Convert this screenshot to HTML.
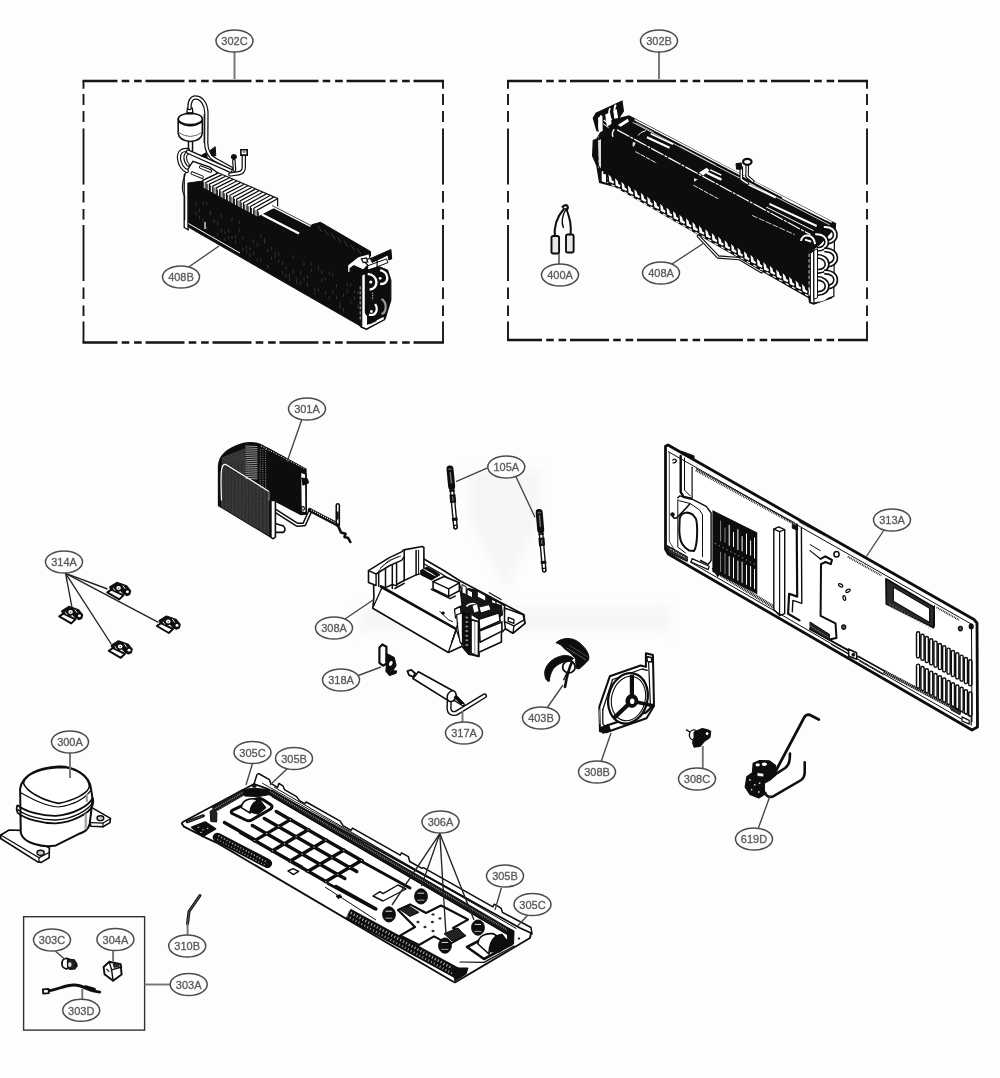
<!DOCTYPE html>
<html><head><meta charset="utf-8"><title>Exploded view</title><style>html,body{margin:0;padding:0;background:#fdfdfd;}
body{width:1000px;height:1078px;overflow:hidden;font-family:"Liberation Sans",sans-serif;}
svg{display:block;}
.lb{font-family:"Liberation Sans",sans-serif;font-size:11px;fill:#5a5a5a;stroke:#5a5a5a;stroke-width:0.3px;text-anchor:middle;}
</style></head><body><svg width="1000" height="1078" viewBox="0 0 1000 1078"><defs><filter id="soft" x="-5%" y="-5%" width="110%" height="110%"><feGaussianBlur stdDeviation="0.55"/></filter><filter id="wm" x="-20%" y="-20%" width="140%" height="140%"><feGaussianBlur stdDeviation="5"/></filter></defs><rect x="0" y="0" width="1000" height="1078" fill="#fdfdfd"/><g filter="url(#soft)"><g filter="url(#wm)" opacity="0.55"><path d="M470,470 L540,470 L540,520 L505,590 L470,520 Z" fill="#f0f0f0" stroke="none" stroke-width="0" /><rect x="360" y="606" width="310" height="26" fill="#f1f1f1"/></g><polygon points="184.2,175 192.9,161.4 209.8,167.2 218.2,173.2 202.6,181.7 202.6,188.3 188.1,183.5 188.1,229.9 184.2,227.5" fill="#fff" stroke="#0c0c0c" stroke-width="1.3" /><path d="M192.3,173.2 L202,177.1" fill="none" stroke="#0c0c0c" stroke-width="3.6" stroke-linecap="round" stroke-linejoin="round"/><path d="M192.3,173.2 L202,177.1" fill="none" stroke="#fff" stroke-width="1.6" stroke-linecap="round" stroke-linejoin="round"/><path d="M200.8,167.2 L210.4,171" fill="none" stroke="#0c0c0c" stroke-width="3.6" stroke-linecap="round" stroke-linejoin="round"/><path d="M200.8,167.2 L210.4,171" fill="none" stroke="#fff" stroke-width="1.6" stroke-linecap="round" stroke-linejoin="round"/><polygon points="188.2,183 188.2,227 360,325.8 360.5,262 370.5,256 370.5,251.5 320.5,222.3 310,225.2 306,223 277.5,207 277.5,199 257,210 203,181" fill="#0c0c0c" stroke="#0c0c0c" stroke-width="1" /><line x1="196" y1="202.619" x2="196" y2="206.119" stroke="#3a3a3a" stroke-width="0.9" /><line x1="196" y1="211.807" x2="196" y2="215.307" stroke="#3a3a3a" stroke-width="0.9" /><line x1="199.6" y1="208.595" x2="199.6" y2="212.095" stroke="#3a3a3a" stroke-width="0.9" /><line x1="199.6" y1="215.614" x2="199.6" y2="219.114" stroke="#3a3a3a" stroke-width="0.9" /><line x1="203.2" y1="218.284" x2="203.2" y2="221.784" stroke="#3a3a3a" stroke-width="0.9" /><line x1="203.2" y1="201.478" x2="203.2" y2="204.978" stroke="#3a3a3a" stroke-width="0.9" /><line x1="206.8" y1="201.923" x2="206.8" y2="205.423" stroke="#3a3a3a" stroke-width="0.9" /><line x1="206.8" y1="226.652" x2="206.8" y2="230.152" stroke="#3a3a3a" stroke-width="0.9" /><line x1="210.4" y1="211.325" x2="210.4" y2="214.825" stroke="#3a3a3a" stroke-width="0.9" /><line x1="210.4" y1="210.574" x2="210.4" y2="214.074" stroke="#3a3a3a" stroke-width="0.9" /><line x1="214" y1="235.429" x2="214" y2="238.929" stroke="#3a3a3a" stroke-width="0.9" /><line x1="214" y1="219.668" x2="214" y2="223.168" stroke="#3a3a3a" stroke-width="0.9" /><line x1="217.6" y1="232.67" x2="217.6" y2="236.17" stroke="#3a3a3a" stroke-width="0.9" /><line x1="217.6" y1="221.867" x2="217.6" y2="225.367" stroke="#3a3a3a" stroke-width="0.9" /><line x1="221.2" y1="228.764" x2="221.2" y2="232.264" stroke="#3a3a3a" stroke-width="0.9" /><line x1="221.2" y1="214.11" x2="221.2" y2="217.61" stroke="#3a3a3a" stroke-width="0.9" /><line x1="224.8" y1="230.654" x2="224.8" y2="234.154" stroke="#3a3a3a" stroke-width="0.9" /><line x1="224.8" y1="237.649" x2="224.8" y2="241.149" stroke="#3a3a3a" stroke-width="0.9" /><line x1="228.4" y1="229.319" x2="228.4" y2="232.819" stroke="#3a3a3a" stroke-width="0.9" /><line x1="228.4" y1="235.862" x2="228.4" y2="239.362" stroke="#3a3a3a" stroke-width="0.9" /><line x1="232" y1="235.782" x2="232" y2="239.282" stroke="#3a3a3a" stroke-width="0.9" /><line x1="232" y1="217.561" x2="232" y2="221.061" stroke="#3a3a3a" stroke-width="0.9" /><line x1="235.6" y1="240.403" x2="235.6" y2="243.903" stroke="#3a3a3a" stroke-width="0.9" /><line x1="235.6" y1="235.389" x2="235.6" y2="238.889" stroke="#3a3a3a" stroke-width="0.9" /><line x1="239.2" y1="228.71" x2="239.2" y2="232.21" stroke="#3a3a3a" stroke-width="0.9" /><line x1="239.2" y1="220.602" x2="239.2" y2="224.102" stroke="#3a3a3a" stroke-width="0.9" /><line x1="242.8" y1="247.654" x2="242.8" y2="251.154" stroke="#3a3a3a" stroke-width="0.9" /><line x1="242.8" y1="235.87" x2="242.8" y2="239.37" stroke="#3a3a3a" stroke-width="0.9" /><line x1="246.4" y1="245.269" x2="246.4" y2="248.769" stroke="#3a3a3a" stroke-width="0.9" /><line x1="246.4" y1="250.068" x2="246.4" y2="253.568" stroke="#3a3a3a" stroke-width="0.9" /><line x1="250" y1="247.144" x2="250" y2="250.644" stroke="#3a3a3a" stroke-width="0.9" /><line x1="250" y1="253.353" x2="250" y2="256.853" stroke="#3a3a3a" stroke-width="0.9" /><line x1="253.6" y1="239.585" x2="253.6" y2="243.085" stroke="#3a3a3a" stroke-width="0.9" /><line x1="253.6" y1="251.763" x2="253.6" y2="255.263" stroke="#3a3a3a" stroke-width="0.9" /><line x1="257.2" y1="243.091" x2="257.2" y2="246.591" stroke="#3a3a3a" stroke-width="0.9" /><line x1="257.2" y1="257.82" x2="257.2" y2="261.32" stroke="#3a3a3a" stroke-width="0.9" /><line x1="260.8" y1="258.134" x2="260.8" y2="261.634" stroke="#3a3a3a" stroke-width="0.9" /><line x1="260.8" y1="234.692" x2="260.8" y2="238.192" stroke="#3a3a3a" stroke-width="0.9" /><line x1="264.4" y1="237.863" x2="264.4" y2="241.363" stroke="#3a3a3a" stroke-width="0.9" /><line x1="264.4" y1="240.294" x2="264.4" y2="243.794" stroke="#3a3a3a" stroke-width="0.9" /><line x1="268" y1="264.764" x2="268" y2="268.264" stroke="#3a3a3a" stroke-width="0.9" /><line x1="268" y1="248.885" x2="268" y2="252.385" stroke="#3a3a3a" stroke-width="0.9" /><line x1="271.6" y1="256.615" x2="271.6" y2="260.115" stroke="#3a3a3a" stroke-width="0.9" /><line x1="271.6" y1="246.847" x2="271.6" y2="250.347" stroke="#3a3a3a" stroke-width="0.9" /><line x1="275.2" y1="255.049" x2="275.2" y2="258.549" stroke="#3a3a3a" stroke-width="0.9" /><line x1="275.2" y1="251.408" x2="275.2" y2="254.908" stroke="#3a3a3a" stroke-width="0.9" /><line x1="278.8" y1="252.375" x2="278.8" y2="255.875" stroke="#3a3a3a" stroke-width="0.9" /><line x1="278.8" y1="259.4" x2="278.8" y2="262.9" stroke="#3a3a3a" stroke-width="0.9" /><line x1="282.4" y1="261.392" x2="282.4" y2="264.892" stroke="#3a3a3a" stroke-width="0.9" /><line x1="282.4" y1="270.99" x2="282.4" y2="274.49" stroke="#3a3a3a" stroke-width="0.9" /><line x1="286" y1="266.339" x2="286" y2="269.839" stroke="#3a3a3a" stroke-width="0.9" /><line x1="286" y1="273.748" x2="286" y2="277.248" stroke="#3a3a3a" stroke-width="0.9" /><line x1="289.6" y1="273.588" x2="289.6" y2="277.088" stroke="#3a3a3a" stroke-width="0.9" /><line x1="289.6" y1="277.626" x2="289.6" y2="281.126" stroke="#3a3a3a" stroke-width="0.9" /><line x1="293.2" y1="270.05" x2="293.2" y2="273.55" stroke="#3a3a3a" stroke-width="0.9" /><line x1="293.2" y1="254.805" x2="293.2" y2="258.305" stroke="#3a3a3a" stroke-width="0.9" /><line x1="296.8" y1="277.747" x2="296.8" y2="281.247" stroke="#3a3a3a" stroke-width="0.9" /><line x1="296.8" y1="280.867" x2="296.8" y2="284.367" stroke="#3a3a3a" stroke-width="0.9" /><line x1="300.4" y1="281.085" x2="300.4" y2="284.585" stroke="#3a3a3a" stroke-width="0.9" /><line x1="300.4" y1="271.017" x2="300.4" y2="274.517" stroke="#3a3a3a" stroke-width="0.9" /><line x1="304" y1="277.375" x2="304" y2="280.875" stroke="#3a3a3a" stroke-width="0.9" /><line x1="304" y1="262.294" x2="304" y2="265.794" stroke="#3a3a3a" stroke-width="0.9" /><line x1="307.6" y1="282.924" x2="307.6" y2="286.424" stroke="#3a3a3a" stroke-width="0.9" /><line x1="307.6" y1="275.182" x2="307.6" y2="278.682" stroke="#3a3a3a" stroke-width="0.9" /><line x1="311.2" y1="268.541" x2="311.2" y2="272.041" stroke="#3a3a3a" stroke-width="0.9" /><line x1="311.2" y1="261.896" x2="311.2" y2="265.396" stroke="#3a3a3a" stroke-width="0.9" /><line x1="314.8" y1="287.626" x2="314.8" y2="291.126" stroke="#3a3a3a" stroke-width="0.9" /><line x1="314.8" y1="291.702" x2="314.8" y2="295.202" stroke="#3a3a3a" stroke-width="0.9" /><line x1="318.4" y1="266.68" x2="318.4" y2="270.18" stroke="#3a3a3a" stroke-width="0.9" /><line x1="318.4" y1="288.042" x2="318.4" y2="291.542" stroke="#3a3a3a" stroke-width="0.9" /><line x1="322" y1="278.354" x2="322" y2="281.854" stroke="#3a3a3a" stroke-width="0.9" /><line x1="322" y1="270.563" x2="322" y2="274.063" stroke="#3a3a3a" stroke-width="0.9" /><line x1="325.6" y1="276.873" x2="325.6" y2="280.373" stroke="#3a3a3a" stroke-width="0.9" /><line x1="325.6" y1="291.12" x2="325.6" y2="294.62" stroke="#3a3a3a" stroke-width="0.9" /><line x1="329.2" y1="296.255" x2="329.2" y2="299.755" stroke="#3a3a3a" stroke-width="0.9" /><line x1="329.2" y1="271.398" x2="329.2" y2="274.898" stroke="#3a3a3a" stroke-width="0.9" /><line x1="332.8" y1="290.524" x2="332.8" y2="294.024" stroke="#3a3a3a" stroke-width="0.9" /><line x1="332.8" y1="273.436" x2="332.8" y2="276.936" stroke="#3a3a3a" stroke-width="0.9" /><line x1="336.4" y1="295.657" x2="336.4" y2="299.157" stroke="#3a3a3a" stroke-width="0.9" /><line x1="336.4" y1="284.033" x2="336.4" y2="287.533" stroke="#3a3a3a" stroke-width="0.9" /><line x1="340" y1="302.547" x2="340" y2="306.047" stroke="#3a3a3a" stroke-width="0.9" /><line x1="340" y1="305.539" x2="340" y2="309.039" stroke="#3a3a3a" stroke-width="0.9" /><line x1="343.6" y1="293.299" x2="343.6" y2="296.799" stroke="#3a3a3a" stroke-width="0.9" /><line x1="343.6" y1="308.091" x2="343.6" y2="311.591" stroke="#3a3a3a" stroke-width="0.9" /><line x1="347.2" y1="289.442" x2="347.2" y2="292.942" stroke="#3a3a3a" stroke-width="0.9" /><line x1="347.2" y1="282.461" x2="347.2" y2="285.961" stroke="#3a3a3a" stroke-width="0.9" /><line x1="350.8" y1="300.161" x2="350.8" y2="303.661" stroke="#3a3a3a" stroke-width="0.9" /><line x1="350.8" y1="283.109" x2="350.8" y2="286.609" stroke="#3a3a3a" stroke-width="0.9" /><line x1="354.4" y1="290.106" x2="354.4" y2="293.606" stroke="#3a3a3a" stroke-width="0.9" /><line x1="354.4" y1="296.422" x2="354.4" y2="299.922" stroke="#3a3a3a" stroke-width="0.9" /><line x1="358" y1="304.514" x2="358" y2="308.014" stroke="#3a3a3a" stroke-width="0.9" /><line x1="358" y1="290.886" x2="358" y2="294.386" stroke="#3a3a3a" stroke-width="0.9" /><line x1="188.5" y1="223.5" x2="240" y2="253" stroke="#fff" stroke-width="1" /><line x1="205" y1="222" x2="205" y2="229" stroke="#fff" stroke-width="1.2" /><polygon points="202.6,188.2 202.6,180.5 218.3,172.8 277.6,198.4 277.6,207.2 257.5,217.6" fill="#fff" stroke="#0c0c0c" stroke-width="1.2" /><polyline points="202.6,187.9 202.6,180.5 218.3,173" fill="none" stroke="#0c0c0c" stroke-width="1.25" /><line x1="203.8" y1="188.1" x2="203.8" y2="182" stroke="#0c0c0c" stroke-width="0.9" /><polyline points="206,189.8 206,182.4 222,174.6" fill="none" stroke="#0c0c0c" stroke-width="1.25" /><line x1="207.212" y1="189.956" x2="207.212" y2="183.856" stroke="#0c0c0c" stroke-width="0.9" /><polyline points="209.4,191.6 209.4,184.2 225.7,176.2" fill="none" stroke="#0c0c0c" stroke-width="1.25" /><line x1="210.625" y1="191.812" x2="210.625" y2="185.713" stroke="#0c0c0c" stroke-width="0.9" /><polyline points="212.8,193.5 212.8,186.1 229.4,177.8" fill="none" stroke="#0c0c0c" stroke-width="1.25" /><line x1="214.037" y1="193.669" x2="214.037" y2="187.569" stroke="#0c0c0c" stroke-width="0.9" /><polyline points="216.2,195.3 216.2,187.9 233.1,179.4" fill="none" stroke="#0c0c0c" stroke-width="1.25" /><line x1="217.45" y1="195.525" x2="217.45" y2="189.425" stroke="#0c0c0c" stroke-width="0.9" /><polyline points="219.7,197.2 219.7,189.8 236.8,181" fill="none" stroke="#0c0c0c" stroke-width="1.25" /><line x1="220.862" y1="197.381" x2="220.862" y2="191.281" stroke="#0c0c0c" stroke-width="0.9" /><polyline points="223.1,199 223.1,191.6 240.5,182.6" fill="none" stroke="#0c0c0c" stroke-width="1.25" /><line x1="224.275" y1="199.237" x2="224.275" y2="193.137" stroke="#0c0c0c" stroke-width="0.9" /><polyline points="226.5,200.9 226.5,193.5 244.2,184.2" fill="none" stroke="#0c0c0c" stroke-width="1.25" /><line x1="227.687" y1="201.094" x2="227.687" y2="194.994" stroke="#0c0c0c" stroke-width="0.9" /><polyline points="229.9,202.8 229.9,195.3 247.9,185.8" fill="none" stroke="#0c0c0c" stroke-width="1.25" /><line x1="231.1" y1="202.95" x2="231.1" y2="196.85" stroke="#0c0c0c" stroke-width="0.9" /><polyline points="233.3,204.6 233.3,197.2 251.6,187.5" fill="none" stroke="#0c0c0c" stroke-width="1.25" /><line x1="234.512" y1="204.806" x2="234.512" y2="198.706" stroke="#0c0c0c" stroke-width="0.9" /><polyline points="236.7,206.5 236.7,199.1 255.3,189.1" fill="none" stroke="#0c0c0c" stroke-width="1.25" /><line x1="237.925" y1="206.662" x2="237.925" y2="200.562" stroke="#0c0c0c" stroke-width="0.9" /><polyline points="240.1,208.3 240.1,200.9 259,190.7" fill="none" stroke="#0c0c0c" stroke-width="1.25" /><line x1="241.337" y1="208.519" x2="241.337" y2="202.419" stroke="#0c0c0c" stroke-width="0.9" /><polyline points="243.5,210.2 243.5,202.8 262.7,192.3" fill="none" stroke="#0c0c0c" stroke-width="1.25" /><line x1="244.75" y1="210.375" x2="244.75" y2="204.275" stroke="#0c0c0c" stroke-width="0.9" /><polyline points="247,212 247,204.6 266.4,193.9" fill="none" stroke="#0c0c0c" stroke-width="1.25" /><line x1="248.162" y1="212.231" x2="248.162" y2="206.131" stroke="#0c0c0c" stroke-width="0.9" /><polyline points="250.4,213.9 250.4,206.5 270.1,195.5" fill="none" stroke="#0c0c0c" stroke-width="1.25" /><line x1="251.575" y1="214.087" x2="251.575" y2="207.987" stroke="#0c0c0c" stroke-width="0.9" /><polyline points="253.8,215.7 253.8,208.3 273.8,197.1" fill="none" stroke="#0c0c0c" stroke-width="1.25" /><line x1="254.987" y1="215.944" x2="254.987" y2="209.844" stroke="#0c0c0c" stroke-width="0.9" /><polyline points="257.2,217.6 257.2,210.2 277.5,198.7" fill="none" stroke="#0c0c0c" stroke-width="1.25" /><line x1="258.4" y1="217.8" x2="258.4" y2="211.7" stroke="#0c0c0c" stroke-width="0.9" /><polyline points="202.6,188.2 257.5,217.6 277.6,207.2" fill="none" stroke="#0c0c0c" stroke-width="1.6" /><line x1="272" y1="205.5" x2="311" y2="225.5" stroke="#fff" stroke-width="3.6" /><line x1="272" y1="205.5" x2="311" y2="225.5" stroke="#0c0c0c" stroke-width="0.8" /><line x1="262" y1="214.5" x2="299" y2="233.5" stroke="#fff" stroke-width="2.4" /><line x1="318" y1="226" x2="322" y2="232" stroke="#444" stroke-width="0.8" /><line x1="324.5" y1="229.7" x2="328.5" y2="235.7" stroke="#444" stroke-width="0.8" /><line x1="331" y1="233.4" x2="335" y2="239.4" stroke="#444" stroke-width="0.8" /><line x1="337.5" y1="237.1" x2="341.5" y2="243.1" stroke="#444" stroke-width="0.8" /><line x1="344" y1="240.8" x2="348" y2="246.8" stroke="#444" stroke-width="0.8" /><line x1="350.5" y1="244.5" x2="354.5" y2="250.5" stroke="#444" stroke-width="0.8" /><line x1="357" y1="248.2" x2="361" y2="254.2" stroke="#444" stroke-width="0.8" /><path d="M190.5,138.2 L190.5,150.3" fill="none" stroke="#0c0c0c" stroke-width="5.5" stroke-linecap="round" stroke-linejoin="round"/><path d="M190.5,138.2 L190.5,150.3" fill="none" stroke="#fff" stroke-width="2.6" stroke-linecap="round" stroke-linejoin="round"/><path d="M178.2,118.9 L178.2,133.4 Q179,140.4 190.5,141.6 Q201.6,140.4 202.3,133.4 L202.3,118.9 Z" fill="#fff" stroke="#0c0c0c" stroke-width="1.5" /><ellipse cx="190.3" cy="118.9" rx="12" ry="5.6" fill="#fff" stroke="#0c0c0c" stroke-width="1.5" /><path d="M178.2,121.6 Q190.3,129.8 202.3,121.6" fill="none" stroke="#0c0c0c" stroke-width="1.6" /><path d="M178.2,132.2 Q190.3,140.7 202.3,132.2" fill="none" stroke="#555" stroke-width="0.9" /><polygon points="186.9,112.9 187.5,108.1 192.3,108.1 192.9,112.9" fill="#fff" stroke="#0c0c0c" stroke-width="1.3" /><line x1="186.9" y1="113.5" x2="192.9" y2="113.5" stroke="#0c0c0c" stroke-width="2" /><path d="M189.5,108.1 C189.3,100.9 191.7,97.2 195.9,97.5 C202,97.8 206.2,104.5 206.4,112.9 L206.2,143.1 C206.2,150.3 209.8,156.9 214.6,159.3 L230.9,168.4" fill="none" stroke="#0c0c0c" stroke-width="4.4" stroke-linecap="round" stroke-linejoin="round"/><path d="M189.5,108.1 C189.3,100.9 191.7,97.2 195.9,97.5 C202,97.8 206.2,104.5 206.4,112.9 L206.2,143.1 C206.2,150.3 209.8,156.9 214.6,159.3 L230.9,168.4" fill="none" stroke="#fff" stroke-width="2" stroke-linecap="round" stroke-linejoin="round"/><line x1="204.1" y1="114.1" x2="204.1" y2="143.1" stroke="#0c0c0c" stroke-width="0.9" /><path d="M188.1,150.1 C181.5,149.1 178.4,152.7 179,158.7 C179.6,164.8 183.3,169.6 186.9,171" fill="none" stroke="#0c0c0c" stroke-width="4.2" stroke-linecap="round" stroke-linejoin="round"/><path d="M188.1,150.1 C181.5,149.1 178.4,152.7 179,158.7 C179.6,164.8 183.3,169.6 186.9,171" fill="none" stroke="#fff" stroke-width="1.9" stroke-linecap="round" stroke-linejoin="round"/><path d="M188.1,152.7 C184.5,153.9 183.9,159.9 188.1,164.8" fill="none" stroke="#0c0c0c" stroke-width="3.6" stroke-linecap="round" stroke-linejoin="round"/><path d="M188.1,152.7 C184.5,153.9 183.9,159.9 188.1,164.8" fill="none" stroke="#fff" stroke-width="1.5" stroke-linecap="round" stroke-linejoin="round"/><path d="M188.1,151.7 L230.3,170.6" fill="none" stroke="#0c0c0c" stroke-width="4.6" stroke-linecap="round" stroke-linejoin="round"/><path d="M188.1,151.7 L230.3,170.6" fill="none" stroke="#fff" stroke-width="2.1" stroke-linecap="round" stroke-linejoin="round"/><polygon points="210.4,150.3 215.2,146.7 215.8,155.7 211.6,155.7" fill="#0c0c0c" stroke="#0c0c0c" stroke-width="1" /><polygon points="200.8,155.7 206.2,152.7 207.4,157.5" fill="#0c0c0c" stroke="#0c0c0c" stroke-width="1" /><path d="M233.9,160.6 L234.5,170.2" fill="none" stroke="#0c0c0c" stroke-width="3.6" stroke-linecap="round" stroke-linejoin="round"/><path d="M233.9,160.6 L234.5,170.2" fill="none" stroke="#fff" stroke-width="1.2" stroke-linecap="round" stroke-linejoin="round"/><ellipse cx="233.9" cy="156.9" rx="2.6" ry="2.3" fill="#0c0c0c" stroke="#0c0c0c" stroke-width="1" /><path d="M243.8,155.1 L243.8,167.2 Q243.6,172.6 238.7,173.2 L230.3,174.4" fill="none" stroke="#0c0c0c" stroke-width="4.4" stroke-linecap="round" stroke-linejoin="round"/><path d="M243.8,155.1 L243.8,167.2 Q243.6,172.6 238.7,173.2 L230.3,174.4" fill="none" stroke="#fff" stroke-width="2" stroke-linecap="round" stroke-linejoin="round"/><polygon points="240.9,149.7 247.2,149.7 247.2,155.1 240.9,155.1" fill="#fff" stroke="#0c0c0c" stroke-width="1.6" rx="1"/><ellipse cx="244.1" cy="151.7" rx="1.6" ry="1.3" fill="#888" stroke="none" stroke-width="0" /><path d="M185.4,174.4 C181.5,181.7 181.5,191.3 184.7,196.1 L184.7,220" fill="none" stroke="#0c0c0c" stroke-width="1.1" /><polygon points="360.2,270.1 367.7,266.4 375.2,265.1 387.7,270.1 390.9,280.2 390.9,300.2 385.2,319 366.4,329.6 360.2,326.8" fill="#0c0c0c" stroke="#0c0c0c" stroke-width="1" /><polygon points="370.4,258.6 390.9,249.5 391.7,258.9 388.7,259.9 388,254.9 372.1,262.4" fill="#0c0c0c" stroke="#0c0c0c" stroke-width="1" /><polygon points="347.6,265.1 358.3,256.6 369.2,253.6 369.9,258.6 362.7,260.1 367.7,265.1 363.3,270.1 353.9,265.8 350.1,268.6 350.1,272 347.6,272.9" fill="#fff" stroke="#0c0c0c" stroke-width="1.2" /><polygon points="361.4,258.9 366.4,257.9 367.7,262 363.3,262.6" fill="#fff" stroke="#0c0c0c" stroke-width="1.3" /><polygon points="361.7,275.2 365.4,273.3 365.4,312.7 367.7,316.5 367.7,324 384,315.9 384.6,319.6 366.4,329 361.7,327.1" fill="#fff" stroke="#0c0c0c" stroke-width="1.2" /><line x1="360.2" y1="286.4" x2="360.2" y2="320.3" stroke="#ddd" stroke-width="0.8" stroke-dasharray="3 2"/><polygon points="367.7,322.1 375.2,319 376.5,320.9 369.6,324" fill="#0c0c0c" stroke="#0c0c0c" stroke-width="0.5" /><polygon points="367.7,265.8 386.5,258.9 388,262.6 375.2,267.6 367.7,270.1" fill="#fff" stroke="#0c0c0c" stroke-width="1" /><line x1="377.1" y1="260.1" x2="377.1" y2="268.3" stroke="#0c0c0c" stroke-width="1.2" /><path d="M367.7,273.9 C379,275.2 379,288.9 369.6,289.6" fill="none" stroke="#fff" stroke-width="2.4" /><path d="M380.2,270.1 C390.2,272.7 389,285.2 380.2,283.9" fill="none" stroke="#fff" stroke-width="2.4" /><path d="M375.2,304 C379,310.2 375.2,316.5 368.9,314.6" fill="none" stroke="#fff" stroke-width="2.2" /><path d="M381.5,299 C387.7,302.7 386.5,312.7 381.5,314" fill="none" stroke="#999" stroke-width="2.2" /><ellipse cx="370.8" cy="282" rx="1.6" ry="1.6" fill="#fff" stroke="none" stroke-width="0" /><ellipse cx="380.2" cy="278.3" rx="1.4" ry="1.4" fill="#fff" stroke="none" stroke-width="0" /><ellipse cx="371.4" cy="311.5" rx="1.4" ry="1.4" fill="#fff" stroke="none" stroke-width="0" /><line x1="372.7" y1="292.7" x2="372.7" y2="300.2" stroke="#fff" stroke-width="0.9" stroke-dasharray="1.2 1.2"/><path d="M698.4,236.2 L718.1,257 L739.4,258.6 L761.5,271.7" fill="none" stroke="#0c0c0c" stroke-width="3.4" stroke-linecap="round" stroke-linejoin="round"/><path d="M698.4,236.2 L718.1,257 L739.4,258.6 L761.5,271.7" fill="none" stroke="#fff" stroke-width="1.2" stroke-linecap="round" stroke-linejoin="round"/><polygon points="601,132 596.8,130.6 593.3,118 596.1,113.1 622,101.2 623.4,111 618.5,118.7 629,115.9 778.9,194.4 830.9,221.2 835.6,223.6 834.1,240.9 831.7,297.7 813.6,304 809.6,302.5 808.8,297.7 615,186.6 605.2,183.8 599.6,182.4 596.8,165.6 592.6,155.8 593.3,140.4 596.8,139" fill="#0c0c0c" stroke="#0c0c0c" stroke-width="1.2" /><polygon points="602.1,170.9 604.8,173.7 605.4,176.5 607.6,178.1 607,180.1 602.8,178.1" fill="#fff" stroke="none" stroke-width="0" /><line x1="605" y1="181.1" x2="608.2" y2="182.7" stroke="#fff" stroke-width="1.1" /><polygon points="608.6,174.6 611.2,177.3 611.9,180.2 614.1,181.8 613.5,183.8 609.2,181.8" fill="#fff" stroke="none" stroke-width="0" /><line x1="611.45" y1="184.75" x2="614.65" y2="186.35" stroke="#fff" stroke-width="1.1" /><polygon points="615,178.2 617.7,181 618.3,183.8 620.5,185.4 619.9,187.4 615.7,185.4" fill="#fff" stroke="none" stroke-width="0" /><line x1="617.9" y1="188.4" x2="621.1" y2="190" stroke="#fff" stroke-width="1.1" /><polygon points="621.5,181.8 624.1,184.6 624.8,187.4 627,189 626.4,191 622.1,189" fill="#fff" stroke="none" stroke-width="0" /><line x1="624.35" y1="192.05" x2="627.55" y2="193.65" stroke="#fff" stroke-width="1.1" /><polygon points="627.9,185.5 630.6,188.3 631.2,191.1 633.4,192.7 632.8,194.7 628.6,192.7" fill="#fff" stroke="none" stroke-width="0" /><line x1="630.8" y1="195.7" x2="634" y2="197.3" stroke="#fff" stroke-width="1.1" /><polygon points="634.4,189.2 637,191.9 637.6,194.8 639.9,196.3 639.2,198.3 635,196.3" fill="#fff" stroke="none" stroke-width="0" /><line x1="637.25" y1="199.35" x2="640.45" y2="200.95" stroke="#fff" stroke-width="1.1" /><polygon points="640.8,192.8 643.5,195.6 644.1,198.4 646.3,200 645.7,202 641.5,200" fill="#fff" stroke="none" stroke-width="0" /><line x1="643.7" y1="203" x2="646.9" y2="204.6" stroke="#fff" stroke-width="1.1" /><polygon points="647.2,196.5 649.9,199.2 650.5,202.1 652.8,203.7 652.1,205.7 647.9,203.7" fill="#fff" stroke="none" stroke-width="0" /><line x1="650.15" y1="206.65" x2="653.35" y2="208.25" stroke="#fff" stroke-width="1.1" /><polygon points="653.7,200.1 656.4,202.9 657,205.7 659.2,207.3 658.6,209.3 654.4,207.3" fill="#fff" stroke="none" stroke-width="0" /><line x1="656.6" y1="210.3" x2="659.8" y2="211.9" stroke="#fff" stroke-width="1.1" /><polygon points="660.1,203.8 662.8,206.5 663.4,209.3 665.6,210.9 665,212.9 660.8,210.9" fill="#fff" stroke="none" stroke-width="0" /><line x1="663.05" y1="213.95" x2="666.25" y2="215.55" stroke="#fff" stroke-width="1.1" /><polygon points="666.6,207.4 669.3,210.2 669.9,213 672.1,214.6 671.5,216.6 667.3,214.6" fill="#fff" stroke="none" stroke-width="0" /><line x1="669.5" y1="217.6" x2="672.7" y2="219.2" stroke="#fff" stroke-width="1.1" /><polygon points="673,211.1 675.7,213.8 676.3,216.7 678.5,218.2 677.9,220.2 673.7,218.2" fill="#fff" stroke="none" stroke-width="0" /><line x1="675.95" y1="221.25" x2="679.15" y2="222.85" stroke="#fff" stroke-width="1.1" /><polygon points="679.5,214.7 682.2,217.5 682.8,220.3 685,221.9 684.4,223.9 680.2,221.9" fill="#fff" stroke="none" stroke-width="0" /><line x1="682.4" y1="224.9" x2="685.6" y2="226.5" stroke="#fff" stroke-width="1.1" /><polygon points="686,218.3 688.6,221.1 689.2,223.9 691.5,225.5 690.9,227.5 686.6,225.5" fill="#fff" stroke="none" stroke-width="0" /><line x1="688.85" y1="228.55" x2="692.05" y2="230.15" stroke="#fff" stroke-width="1.1" /><polygon points="692.4,222 695.1,224.8 695.7,227.6 697.9,229.2 697.3,231.2 693.1,229.2" fill="#fff" stroke="none" stroke-width="0" /><line x1="695.3" y1="232.2" x2="698.5" y2="233.8" stroke="#fff" stroke-width="1.1" /><polygon points="698.9,225.7 701.5,228.4 702.1,231.2 704.4,232.8 703.8,234.8 699.5,232.8" fill="#fff" stroke="none" stroke-width="0" /><line x1="701.75" y1="235.85" x2="704.95" y2="237.45" stroke="#fff" stroke-width="1.1" /><polygon points="705.3,229.3 708,232.1 708.6,234.9 710.8,236.5 710.2,238.5 706,236.5" fill="#fff" stroke="none" stroke-width="0" /><line x1="708.2" y1="239.5" x2="711.4" y2="241.1" stroke="#fff" stroke-width="1.1" /><polygon points="711.8,233 714.4,235.8 715,238.6 717.2,240.2 716.6,242.2 712.4,240.2" fill="#fff" stroke="none" stroke-width="0" /><line x1="714.65" y1="243.15" x2="717.85" y2="244.75" stroke="#fff" stroke-width="1.1" /><polygon points="718.2,236.6 720.9,239.4 721.5,242.2 723.7,243.8 723.1,245.8 718.9,243.8" fill="#fff" stroke="none" stroke-width="0" /><line x1="721.1" y1="246.8" x2="724.3" y2="248.4" stroke="#fff" stroke-width="1.1" /><polygon points="724.6,240.3 727.3,243.1 727.9,245.9 730.1,247.5 729.5,249.5 725.3,247.5" fill="#fff" stroke="none" stroke-width="0" /><line x1="727.55" y1="250.45" x2="730.75" y2="252.05" stroke="#fff" stroke-width="1.1" /><polygon points="731.1,243.9 733.8,246.7 734.4,249.5 736.6,251.1 736,253.1 731.8,251.1" fill="#fff" stroke="none" stroke-width="0" /><line x1="734" y1="254.1" x2="737.2" y2="255.7" stroke="#fff" stroke-width="1.1" /><polygon points="737.5,247.6 740.2,250.3 740.8,253.2 743,254.8 742.4,256.8 738.2,254.8" fill="#fff" stroke="none" stroke-width="0" /><line x1="740.45" y1="257.75" x2="743.65" y2="259.35" stroke="#fff" stroke-width="1.1" /><polygon points="744,251.2 746.7,254 747.3,256.8 749.5,258.4 748.9,260.4 744.7,258.4" fill="#fff" stroke="none" stroke-width="0" /><line x1="746.9" y1="261.4" x2="750.1" y2="263" stroke="#fff" stroke-width="1.1" /><polygon points="750.5,254.8 753.1,257.6 753.8,260.4 756,262.1 755.4,264.1 751.1,262.1" fill="#fff" stroke="none" stroke-width="0" /><line x1="753.35" y1="265.05" x2="756.55" y2="266.65" stroke="#fff" stroke-width="1.1" /><polygon points="756.9,258.5 759.6,261.3 760.2,264.1 762.4,265.7 761.8,267.7 757.6,265.7" fill="#fff" stroke="none" stroke-width="0" /><line x1="759.8" y1="268.7" x2="763" y2="270.3" stroke="#fff" stroke-width="1.1" /><polygon points="763.4,262.1 766,264.9 766.6,267.8 768.9,269.4 768.2,271.4 764,269.4" fill="#fff" stroke="none" stroke-width="0" /><line x1="766.25" y1="272.35" x2="769.45" y2="273.95" stroke="#fff" stroke-width="1.1" /><polygon points="769.8,265.8 772.5,268.6 773.1,271.4 775.3,273 774.7,275 770.5,273" fill="#fff" stroke="none" stroke-width="0" /><line x1="772.7" y1="276" x2="775.9" y2="277.6" stroke="#fff" stroke-width="1.1" /><polygon points="776.2,269.4 778.9,272.2 779.5,275.1 781.8,276.7 781.1,278.7 776.9,276.7" fill="#fff" stroke="none" stroke-width="0" /><line x1="779.15" y1="279.65" x2="782.35" y2="281.25" stroke="#fff" stroke-width="1.1" /><polygon points="782.7,273.1 785.4,275.9 786,278.7 788.2,280.3 787.6,282.3 783.4,280.3" fill="#fff" stroke="none" stroke-width="0" /><line x1="785.6" y1="283.3" x2="788.8" y2="284.9" stroke="#fff" stroke-width="1.1" /><polygon points="789.1,276.8 791.8,279.6 792.4,282.4 794.6,284 794,286 789.8,284" fill="#fff" stroke="none" stroke-width="0" /><line x1="792.05" y1="286.95" x2="795.25" y2="288.55" stroke="#fff" stroke-width="1.1" /><polygon points="795.6,280.4 798.3,283.2 798.9,286 801.1,287.6 800.5,289.6 796.3,287.6" fill="#fff" stroke="none" stroke-width="0" /><line x1="798.5" y1="290.6" x2="801.7" y2="292.2" stroke="#fff" stroke-width="1.1" /><polygon points="802,284 804.7,286.8 805.3,289.6 807.5,291.2 806.9,293.2 802.7,291.2" fill="#fff" stroke="none" stroke-width="0" /><line x1="804.95" y1="294.25" x2="808.15" y2="295.85" stroke="#fff" stroke-width="1.1" /><polygon points="808.5,287.7 811.2,290.5 811.8,293.3 814,294.9 813.4,296.9 809.2,294.9" fill="#fff" stroke="none" stroke-width="0" /><line x1="811.4" y1="297.9" x2="814.6" y2="299.5" stroke="#fff" stroke-width="1.1" /><line x1="617.1" y1="129.9" x2="810.4" y2="234.6" stroke="#fff" stroke-width="1.2" stroke-dasharray="14 1.2 3 1.2"/><line x1="634.6" y1="119.7" x2="831.7" y2="222.3" stroke="#fff" stroke-width="1.3" /><line x1="632.6" y1="122.3" x2="829.7" y2="224.9" stroke="#fff" stroke-width="0.8" /><line x1="636" y1="122.9" x2="778.9" y2="198.7" stroke="#fff" stroke-width="0.6" stroke-dasharray="20 30 40 25"/><line x1="646.9" y1="137.3" x2="669.6" y2="147.7" stroke="#fff" stroke-width="2.2" /><line x1="650.7" y1="133.7" x2="673.1" y2="144.3" stroke="#fff" stroke-width="1.6" /><line x1="706.7" y1="172.6" x2="721.4" y2="179.6" stroke="#fff" stroke-width="2.4" /><line x1="710.2" y1="169.8" x2="721.4" y2="175.1" stroke="#fff" stroke-width="1.4" /><polygon points="699,172.6 706.7,167.7 709.5,170.5 703.2,175.4" fill="#fff" stroke="none" stroke-width="0" /><polygon points="694.1,178.2 697.6,179.6 694.1,181.7" fill="#fff" stroke="none" stroke-width="0" /><polygon points="632.9,141.8 635.7,142.9 633.9,146.7 632.5,146" fill="#ddd" stroke="none" stroke-width="0" /><path d="M638.1,135.5 Q640.2,132 645.8,130.6" fill="none" stroke="#fff" stroke-width="1" /><line x1="635.3" y1="151.6" x2="656.7" y2="163.1" stroke="#fff" stroke-width="0.9" stroke-dasharray="5 1"/><line x1="693.4" y1="185.2" x2="717.9" y2="198.6" stroke="#fff" stroke-width="0.9" stroke-dasharray="5 1"/><line x1="752.1" y1="215.4" x2="794.6" y2="234.6" stroke="#fff" stroke-width="0.8" stroke-dasharray="6 1.5"/><line x1="742.6" y1="181.8" x2="775.7" y2="197.6" stroke="#fff" stroke-width="1.8" /><line x1="769.4" y1="203.9" x2="816.7" y2="226" stroke="#fff" stroke-width="2" /><line x1="782" y1="197.6" x2="826.2" y2="219.7" stroke="#fff" stroke-width="1.5" /><line x1="785.2" y1="195.5" x2="831.7" y2="218.9" stroke="#fff" stroke-width="1.1" /><line x1="766.2" y1="207" x2="813.6" y2="230.7" stroke="#fff" stroke-width="1" /><path d="M741.3,167.6 L741.3,179.4 L747.3,183.4" fill="none" stroke="#0c0c0c" stroke-width="3.6" stroke-linecap="round" stroke-linejoin="round"/><path d="M741.3,167.6 L741.3,179.4 L747.3,183.4" fill="none" stroke="#fff" stroke-width="1.4" stroke-linecap="round" stroke-linejoin="round"/><path d="M747.3,165.2 L747,176.3 L752.8,181.3" fill="none" stroke="#0c0c0c" stroke-width="3.6" stroke-linecap="round" stroke-linejoin="round"/><path d="M747.3,165.2 L747,176.3 L752.8,181.3" fill="none" stroke="#fff" stroke-width="1.4" stroke-linecap="round" stroke-linejoin="round"/><ellipse cx="747.3" cy="161.8" rx="4.2" ry="3" fill="#fff" stroke="#0c0c0c" stroke-width="2.2" /><polygon points="736,163.7 741.3,162.9 741.3,169.2 736.6,169.2" fill="#0c0c0c" stroke="#0c0c0c" stroke-width="1" /><polygon points="810.4,253.6 813.9,250.4 813.9,297.7 826.2,292.2 829.3,295.4 813.9,303.2 810.4,302.5" fill="#fff" stroke="#0c0c0c" stroke-width="1" /><line x1="809.1" y1="253.6" x2="809.1" y2="297.7" stroke="#fff" stroke-width="0.8" stroke-dasharray="3.5 2"/><polygon points="813.9,248.8 819.9,244.1 834.4,228.3 834.5,232 833.8,296.2 813.9,303.2" fill="#fff" stroke="#0c0c0c" stroke-width="1.2" /><path d="M823.8,227.1 c15,-1 15,16 1.5,15" fill="none" stroke="#0c0c0c" stroke-width="5.2" /><path d="M823.8,227.1 c15,-1 15,16 1.5,15" fill="none" stroke="#fff" stroke-width="2" /><path d="M815.2,234.2 c15,-1 15,16 1.5,15" fill="none" stroke="#0c0c0c" stroke-width="5.2" /><path d="M815.2,234.2 c15,-1 15,16 1.5,15" fill="none" stroke="#fff" stroke-width="2" /><path d="M824.2,250 c15,-1 15,16 1.5,15" fill="none" stroke="#0c0c0c" stroke-width="5.2" /><path d="M824.2,250 c15,-1 15,16 1.5,15" fill="none" stroke="#fff" stroke-width="2" /><path d="M815.6,256.3 c15,-1 15,16 1.5,15" fill="none" stroke="#0c0c0c" stroke-width="5.2" /><path d="M815.6,256.3 c15,-1 15,16 1.5,15" fill="none" stroke="#fff" stroke-width="2" /><path d="M824.2,272.1 c15,-1 15,16 1.5,15" fill="none" stroke="#0c0c0c" stroke-width="5.2" /><path d="M824.2,272.1 c15,-1 15,16 1.5,15" fill="none" stroke="#fff" stroke-width="2" /><path d="M815.6,278.4 c15,-1 15,16 1.5,15" fill="none" stroke="#0c0c0c" stroke-width="5.2" /><path d="M815.6,278.4 c15,-1 15,16 1.5,15" fill="none" stroke="#fff" stroke-width="2" /><polygon points="813.9,250.4 817.5,248.8 817.5,297.7 813.9,299.3" fill="#fff" stroke="#0c0c0c" stroke-width="1" /><path d="M800.9,240.9 C802.5,233.1 813.6,233.1 815.1,244.1" fill="none" stroke="#fff" stroke-width="2" /><line x1="804.9" y1="239.7" x2="811.2" y2="241.7" stroke="#fff" stroke-width="1.8" /><path d="M815.9,300.9 Q826.2,300.9 828.5,295.4" fill="none" stroke="#fff" stroke-width="1.8" /><polygon points="597.9,117.7 602.4,115.5 602.7,130.9 599.6,132.3" fill="#fff" stroke="none" stroke-width="0" /><polygon points="605.2,114.6 610.1,112.4 611.6,123.6 606.9,126.7" fill="#fff" stroke="none" stroke-width="0" /><polygon points="613.3,111 616.7,109.3 618.1,118 614.4,118.8" fill="#fff" stroke="none" stroke-width="0" /><polygon points="597.9,140.4 601,139.3 601,168.4 598.9,165.6" fill="#ddd" stroke="none" stroke-width="0" /><polygon points="601.3,172.6 606.6,174 606.6,183.5 601.3,181.7" fill="#fff" stroke="#0c0c0c" stroke-width="1.2" /><path d="M615.7,104.7 Q612.9,111 616.7,116.6" fill="none" stroke="#fff" stroke-width="2" /><path d="M610.1,108.2 Q607.3,113.8 611.5,120.1" fill="none" stroke="#fff" stroke-width="1.6" /><path d="M601,115.2 Q597.5,123.6 599.6,132" fill="none" stroke="#fff" stroke-width="1.5" /><polygon points="617.8,125 627.6,118.7 629,121.5 620.6,126.7" fill="#fff" stroke="none" stroke-width="0" /><line x1="603.8" y1="120.1" x2="610.1" y2="125" stroke="#fff" stroke-width="1.3" /><line x1="603.1" y1="123.6" x2="608.7" y2="127.8" stroke="#fff" stroke-width="1" /><path d="M614.3,129.2 Q611.5,132 612.9,136.9" fill="none" stroke="#fff" stroke-width="1.4" /><line x1="598.5" y1="136.2" x2="598.5" y2="168.4" stroke="#aaa" stroke-width="0.7" stroke-dasharray="2 4"/><line x1="602.4" y1="171.2" x2="602.4" y2="181" stroke="#fff" stroke-width="1.4" /><path d="M564.5,208 C556,218 553.5,228 555,238" fill="none" stroke="#0c0c0c" stroke-width="2" /><path d="M566,208 C570.5,220 571.5,226 570.5,236" fill="none" stroke="#0c0c0c" stroke-width="2" /><path d="M562,207.5 C566,203 570,206 566.5,210.5" fill="none" stroke="#0c0c0c" stroke-width="2.2" /><path d="M566,209 C562,216 561,222 563.5,228" fill="none" stroke="#0c0c0c" stroke-width="1.4" /><rect x="551.5" y="236" width="7.6" height="17.5" rx="1.8" fill="#e8e8e8" stroke="#0c0c0c" stroke-width="1.9"/><rect x="566" y="234.5" width="7.6" height="18" rx="1.8" fill="#e8e8e8" stroke="#0c0c0c" stroke-width="1.9"/><path d="M275.4,523.6 L283.4,526 Q286.6,529.2 283.4,532.4 L275.4,532.4" fill="#fff" stroke="#0c0c0c" stroke-width="1.6" /><path d="M275.4,510.8 L297,524.7 L304.2,524.4 L310.3,510.8" fill="none" stroke="#0c0c0c" stroke-width="4.4" stroke-linecap="round" stroke-linejoin="round"/><path d="M275.4,510.8 L297,524.7 L304.2,524.4 L310.3,510.8" fill="none" stroke="#fff" stroke-width="1.4" stroke-linecap="round" stroke-linejoin="round"/><clipPath id="ccl"><path d="M218.6,466.8 C218.6,454 229,447.6 243.4,443.4 C249.8,442.2 256.2,443.1 260.2,444.4 L305.8,469.2 L306.1,514 L301,514.5 L275.4,501.2 L270.6,500.4 L270.6,536.9 L218.6,505.5 Z"/></clipPath><path d="M218.6,466.8 C218.6,454 229,447.6 243.4,443.4 C249.8,442.2 256.2,443.1 260.2,444.4 L305.8,469.2 L306.1,514 L301,514.5 L275.4,501.2 L270.6,500.4 L270.6,536.9 L218.6,505.5 Z" fill="#0c0c0c" stroke="#0c0c0c" stroke-width="1.5" /><g clip-path="url(#ccl)"><line x1="221.8" y1="457.9" x2="245" y2="448.9" stroke="#8c8c8c" stroke-width="0.45" /><line x1="221.8" y1="459.2" x2="245" y2="450.2" stroke="#8c8c8c" stroke-width="0.45" /><line x1="221.8" y1="460.5" x2="245" y2="451.5" stroke="#8c8c8c" stroke-width="0.45" /><line x1="221.8" y1="461.8" x2="245" y2="452.8" stroke="#8c8c8c" stroke-width="0.45" /><line x1="221.8" y1="463.1" x2="245" y2="454.1" stroke="#8c8c8c" stroke-width="0.45" /><line x1="221.8" y1="464.4" x2="245" y2="455.4" stroke="#8c8c8c" stroke-width="0.45" /><line x1="221.8" y1="465.7" x2="245" y2="456.7" stroke="#8c8c8c" stroke-width="0.45" /><line x1="221.8" y1="467" x2="245" y2="458" stroke="#8c8c8c" stroke-width="0.45" /><line x1="221.8" y1="468.3" x2="245" y2="459.3" stroke="#8c8c8c" stroke-width="0.45" /><line x1="221.8" y1="469.6" x2="245" y2="460.6" stroke="#8c8c8c" stroke-width="0.45" /><line x1="221.8" y1="470.9" x2="245" y2="461.9" stroke="#8c8c8c" stroke-width="0.45" /><line x1="221.8" y1="472.2" x2="245" y2="463.2" stroke="#8c8c8c" stroke-width="0.45" /><line x1="221.8" y1="473.5" x2="245" y2="464.5" stroke="#8c8c8c" stroke-width="0.45" /><line x1="221.8" y1="474.8" x2="245" y2="465.8" stroke="#8c8c8c" stroke-width="0.45" /><line x1="221.8" y1="476.1" x2="245" y2="467.1" stroke="#8c8c8c" stroke-width="0.45" /><line x1="221.8" y1="477.4" x2="245" y2="468.4" stroke="#8c8c8c" stroke-width="0.45" /><line x1="221.8" y1="478.7" x2="245" y2="469.7" stroke="#8c8c8c" stroke-width="0.45" /><line x1="221.8" y1="480" x2="245" y2="471" stroke="#8c8c8c" stroke-width="0.45" /><line x1="221.8" y1="481.3" x2="245" y2="472.3" stroke="#8c8c8c" stroke-width="0.45" /><line x1="221.8" y1="482.6" x2="245" y2="473.6" stroke="#8c8c8c" stroke-width="0.45" /><line x1="221.8" y1="483.9" x2="245" y2="474.9" stroke="#8c8c8c" stroke-width="0.45" /><line x1="221.8" y1="485.2" x2="245" y2="476.2" stroke="#8c8c8c" stroke-width="0.45" /><polygon points="218.6,464.4 226.6,467.1 269.3,491.6 270.9,536.9 218.6,505.5" fill="#0c0c0c" stroke="#0c0c0c" stroke-width="0.5" /><line x1="221" y1="464.9" x2="269.3" y2="492.069" stroke="#8c8c8c" stroke-width="0.45" /><line x1="221" y1="466.2" x2="269.3" y2="493.369" stroke="#8c8c8c" stroke-width="0.45" /><line x1="221" y1="467.5" x2="269.3" y2="494.669" stroke="#8c8c8c" stroke-width="0.45" /><line x1="221" y1="468.8" x2="269.3" y2="495.969" stroke="#8c8c8c" stroke-width="0.45" /><line x1="221" y1="470.1" x2="269.3" y2="497.269" stroke="#8c8c8c" stroke-width="0.45" /><line x1="221" y1="471.4" x2="269.3" y2="498.569" stroke="#8c8c8c" stroke-width="0.45" /><line x1="221" y1="472.7" x2="269.3" y2="499.869" stroke="#8c8c8c" stroke-width="0.45" /><line x1="221" y1="474" x2="269.3" y2="501.169" stroke="#8c8c8c" stroke-width="0.45" /><line x1="221" y1="475.3" x2="269.3" y2="502.469" stroke="#8c8c8c" stroke-width="0.45" /><line x1="221" y1="476.6" x2="269.3" y2="503.769" stroke="#8c8c8c" stroke-width="0.45" /><line x1="221" y1="477.9" x2="269.3" y2="505.069" stroke="#8c8c8c" stroke-width="0.45" /><line x1="221" y1="479.2" x2="269.3" y2="506.369" stroke="#8c8c8c" stroke-width="0.45" /><line x1="221" y1="480.5" x2="269.3" y2="507.669" stroke="#8c8c8c" stroke-width="0.45" /><line x1="221" y1="481.8" x2="269.3" y2="508.969" stroke="#8c8c8c" stroke-width="0.45" /><line x1="221" y1="483.1" x2="269.3" y2="510.269" stroke="#8c8c8c" stroke-width="0.45" /><line x1="221" y1="484.4" x2="269.3" y2="511.569" stroke="#8c8c8c" stroke-width="0.45" /><line x1="221" y1="485.7" x2="269.3" y2="512.869" stroke="#8c8c8c" stroke-width="0.45" /><line x1="221" y1="487" x2="269.3" y2="514.169" stroke="#8c8c8c" stroke-width="0.45" /><line x1="221" y1="488.3" x2="269.3" y2="515.469" stroke="#8c8c8c" stroke-width="0.45" /><line x1="221" y1="489.6" x2="269.3" y2="516.769" stroke="#8c8c8c" stroke-width="0.45" /><line x1="221" y1="490.9" x2="269.3" y2="518.069" stroke="#8c8c8c" stroke-width="0.45" /><line x1="221" y1="492.2" x2="269.3" y2="519.369" stroke="#8c8c8c" stroke-width="0.45" /><line x1="221" y1="493.5" x2="269.3" y2="520.669" stroke="#8c8c8c" stroke-width="0.45" /><line x1="221" y1="494.8" x2="269.3" y2="521.969" stroke="#8c8c8c" stroke-width="0.45" /><line x1="221" y1="496.1" x2="269.3" y2="523.269" stroke="#8c8c8c" stroke-width="0.45" /><line x1="221" y1="497.4" x2="269.3" y2="524.569" stroke="#8c8c8c" stroke-width="0.45" /><line x1="221" y1="498.7" x2="269.3" y2="525.869" stroke="#8c8c8c" stroke-width="0.45" /><line x1="221" y1="500" x2="269.3" y2="527.169" stroke="#8c8c8c" stroke-width="0.45" /><line x1="221" y1="501.3" x2="269.3" y2="528.469" stroke="#8c8c8c" stroke-width="0.45" /><line x1="221" y1="502.6" x2="269.3" y2="529.769" stroke="#8c8c8c" stroke-width="0.45" /><line x1="221" y1="503.9" x2="269.3" y2="531.069" stroke="#8c8c8c" stroke-width="0.45" /><line x1="221" y1="505.2" x2="269.3" y2="532.369" stroke="#8c8c8c" stroke-width="0.45" /><line x1="221" y1="506.5" x2="269.3" y2="533.669" stroke="#8c8c8c" stroke-width="0.45" /><line x1="221" y1="507.8" x2="269.3" y2="534.969" stroke="#8c8c8c" stroke-width="0.45" /><line x1="224.2" y1="462" x2="224.2" y2="535.6" stroke="#222" stroke-width="0.5" /><line x1="227.7" y1="462" x2="227.7" y2="535.6" stroke="#222" stroke-width="0.5" /><line x1="231.2" y1="462" x2="231.2" y2="535.6" stroke="#222" stroke-width="0.5" /><line x1="234.8" y1="462" x2="234.8" y2="535.6" stroke="#222" stroke-width="0.5" /><line x1="238.3" y1="462" x2="238.3" y2="535.6" stroke="#222" stroke-width="0.5" /><line x1="241.8" y1="462" x2="241.8" y2="535.6" stroke="#222" stroke-width="0.5" /><line x1="245.3" y1="462" x2="245.3" y2="535.6" stroke="#222" stroke-width="0.5" /><line x1="248.8" y1="462" x2="248.8" y2="535.6" stroke="#222" stroke-width="0.5" /><line x1="252.4" y1="462" x2="252.4" y2="535.6" stroke="#222" stroke-width="0.5" /><line x1="255.9" y1="462" x2="255.9" y2="535.6" stroke="#222" stroke-width="0.5" /><line x1="259.4" y1="462" x2="259.4" y2="535.6" stroke="#222" stroke-width="0.5" /><line x1="262.9" y1="462" x2="262.9" y2="535.6" stroke="#222" stroke-width="0.5" /><line x1="266.4" y1="462" x2="266.4" y2="535.6" stroke="#222" stroke-width="0.5" /><line x1="245.3" y1="446" x2="257.5" y2="446.6" stroke="#d0d0d0" stroke-width="0.7" /><line x1="245.3" y1="447.9" x2="257.5" y2="448.5" stroke="#d0d0d0" stroke-width="0.7" /><line x1="245.3" y1="449.8" x2="257.5" y2="450.4" stroke="#d0d0d0" stroke-width="0.7" /><line x1="245.3" y1="451.7" x2="257.5" y2="452.3" stroke="#d0d0d0" stroke-width="0.7" /><line x1="245.3" y1="453.6" x2="257.5" y2="454.2" stroke="#d0d0d0" stroke-width="0.7" /><line x1="245.3" y1="455.5" x2="257.5" y2="456.1" stroke="#d0d0d0" stroke-width="0.7" /><line x1="245.3" y1="457.4" x2="257.5" y2="458" stroke="#d0d0d0" stroke-width="0.7" /><line x1="245.3" y1="459.3" x2="257.5" y2="459.9" stroke="#d0d0d0" stroke-width="0.7" /><line x1="245.3" y1="461.2" x2="257.5" y2="461.8" stroke="#d0d0d0" stroke-width="0.7" /><line x1="245.3" y1="463.1" x2="257.5" y2="463.7" stroke="#d0d0d0" stroke-width="0.7" /><line x1="245.3" y1="465" x2="257.5" y2="465.6" stroke="#d0d0d0" stroke-width="0.7" /><line x1="245.3" y1="466.9" x2="257.5" y2="467.5" stroke="#d0d0d0" stroke-width="0.7" /><line x1="245.3" y1="468.8" x2="257.5" y2="469.4" stroke="#d0d0d0" stroke-width="0.7" /><line x1="245.3" y1="470.7" x2="257.5" y2="471.3" stroke="#d0d0d0" stroke-width="0.7" /><line x1="245.3" y1="472.6" x2="257.5" y2="473.2" stroke="#d0d0d0" stroke-width="0.7" /><line x1="245.3" y1="474.5" x2="257.5" y2="475.1" stroke="#d0d0d0" stroke-width="0.7" /><line x1="245.3" y1="476.4" x2="257.5" y2="477" stroke="#d0d0d0" stroke-width="0.7" /><line x1="245.3" y1="478.3" x2="257.5" y2="478.9" stroke="#d0d0d0" stroke-width="0.7" /><line x1="260.2" y1="449.2" x2="260.2" y2="487.6" stroke="#ccc" stroke-width="0.6" stroke-dasharray="1 1.2"/><line x1="262.9" y1="449.2" x2="262.9" y2="487.6" stroke="#ccc" stroke-width="0.6" stroke-dasharray="1 1.2"/><line x1="265.5" y1="449.2" x2="265.5" y2="487.6" stroke="#ccc" stroke-width="0.6" stroke-dasharray="1 1.2"/></g><polygon points="267.4,447.9 305.8,469.2 306.1,514 301,514.5 269,497.2 268.2,490.8" fill="#0c0c0c" stroke="#0c0c0c" stroke-width="1" /><line x1="261" y1="446" x2="305" y2="468.9" stroke="#fff" stroke-width="0.9" stroke-dasharray="1.2 1.6"/><path d="M221.5,500.4 C220.7,478 219.7,459.6 227.4,465.5 L269,491.4" fill="none" stroke="#fff" stroke-width="1.2" /><line x1="269" y1="491.4" x2="269" y2="500.4" stroke="#bbb" stroke-width="0.8" /><polygon points="300.5,471.9 305.8,474 306.1,513.2 301,511.6" fill="#fff" stroke="#0c0c0c" stroke-width="1.5" /><polygon points="301.8,478 307.4,478.8 308.7,482.8 302.9,485.2" fill="#0c0c0c" stroke="#0c0c0c" stroke-width="1" /><ellipse cx="302.9" cy="508.4" rx="1.5" ry="1.8" fill="#fff" stroke="#0c0c0c" stroke-width="1.2" /><path d="M270.9,500.4 L270.9,536.9 Q273,540.4 275.4,536.9 L275.4,500.4 Z" fill="#fff" stroke="#0c0c0c" stroke-width="1.6" /><line x1="309.8" y1="510" x2="337.8" y2="524.7" stroke="#0c0c0c" stroke-width="4.2" stroke-linecap="round"/><line x1="311.4" y1="510" x2="336.5" y2="523.3" stroke="#fff" stroke-width="1.4" stroke-dasharray="0.9 1.3"/><path d="M337.8,524.4 L337.8,505.2" fill="none" stroke="#0c0c0c" stroke-width="4.6" stroke-linecap="round" stroke-linejoin="round"/><path d="M337.8,524.4 L337.8,505.2" fill="none" stroke="#fff" stroke-width="1.5" stroke-linecap="round" stroke-linejoin="round"/><line x1="337.8" y1="519.6" x2="337.8" y2="511.6" stroke="#0c0c0c" stroke-width="1.6" /><path d="M337.5,524.4 L341,532.4 L345.5,533.7 L344.5,536.9 L348.2,538 L350.3,542" fill="none" stroke="#0c0c0c" stroke-width="2.6" stroke-linejoin="round" stroke-linecap="round"/><polygon points="368.5,570.6 388.9,557.9 401.6,551.9 403.9,549.9 422.1,546.5 423.9,547.5 423.9,559 443.3,570.3 459.4,580.5 524,614.8 524.9,623.3 513,633.2 505.4,628.7 501.4,632.6 501.4,642 479,652.2 479,656.5 468.8,654.2 462,646.2 448.4,652.5 372.8,608.3 373.9,597 373.6,584.5 368.5,582.5" fill="#fff" stroke="#0c0c0c" stroke-width="1.6" stroke-linejoin="round"/><polyline points="368.5,570.6 376.1,574 376.1,585.6 373.6,584.5" fill="none" stroke="#0c0c0c" stroke-width="1.4" stroke-linejoin="round" stroke-linecap="round"/><polyline points="376.1,574 389.8,565.5 401.6,560.4 404.2,557 404.2,550.5" fill="none" stroke="#0c0c0c" stroke-width="1.5" stroke-linejoin="round" stroke-linecap="round"/><polyline points="380.4,568 388.9,560.4 400.8,556.1" fill="none" stroke="#444" stroke-width="1" stroke-linejoin="round" stroke-linecap="round"/><path d="M377.9,572.3 Q382.1,563.8 399.1,556.1" fill="none" stroke="#333" stroke-width="1" /><polyline points="378.7,573.1 378.7,586.2" fill="none" stroke="#0c0c0c" stroke-width="1.5" stroke-linejoin="round" stroke-linecap="round"/><polyline points="385.5,568.9 385.5,587.6" fill="none" stroke="#0c0c0c" stroke-width="1.5" stroke-linejoin="round" stroke-linecap="round"/><polyline points="392.3,565.5 392.3,588.5" fill="none" stroke="#0c0c0c" stroke-width="1.5" stroke-linejoin="round" stroke-linecap="round"/><polyline points="396.6,563.8 396.6,585.6" fill="none" stroke="#0c0c0c" stroke-width="1.5" stroke-linejoin="round" stroke-linecap="round"/><polyline points="404.2,557 404.2,580.5 396.6,584.5" fill="none" stroke="#0c0c0c" stroke-width="1.6" stroke-linejoin="round" stroke-linecap="round"/><polyline points="416.1,550.5 416.1,574.9" fill="none" stroke="#0c0c0c" stroke-width="1.5" stroke-linejoin="round" stroke-linecap="round"/><polyline points="418.6,550.2 418.6,574" fill="none" stroke="#0c0c0c" stroke-width="1" stroke-linejoin="round" stroke-linecap="round"/><polyline points="404.2,580.5 416.1,574.9 423.9,573.1" fill="none" stroke="#0c0c0c" stroke-width="1.4" stroke-linejoin="round" stroke-linecap="round"/><polyline points="423.9,559 423.9,573.1" fill="none" stroke="#0c0c0c" stroke-width="1.6" stroke-linejoin="round" stroke-linecap="round"/><polyline points="380.4,585.9 385.5,587.6 392.3,584.5 396.6,585.9" fill="none" stroke="#0c0c0c" stroke-width="1.4" stroke-linejoin="round" stroke-linecap="round"/><polyline points="381.2,586.8 455.2,628.7" fill="none" stroke="#0c0c0c" stroke-width="3" stroke-linejoin="round" stroke-linecap="round"/><polyline points="394.9,588.5 404.2,583.4" fill="none" stroke="#0c0c0c" stroke-width="1.5" stroke-linejoin="round" stroke-linecap="round"/><polygon points="381.8,587.9 372.8,608 448.4,652.2 456.2,629.8" fill="#fff" stroke="#0c0c0c" stroke-width="1.3" stroke-linejoin="round"/><polyline points="451.8,642 456.2,629.8 462,645.4" fill="none" stroke="#0c0c0c" stroke-width="1.2" stroke-linejoin="round" stroke-linecap="round"/><polyline points="423.9,563.8 441.6,574 458.6,584.5" fill="none" stroke="#0c0c0c" stroke-width="1.3" stroke-linejoin="round" stroke-linecap="round"/><polygon points="420.4,570.6 427.1,566.9 435.6,571.5 439.9,574.9 431.4,580 421.2,574.9" fill="#0c0c0c" stroke="#0c0c0c" stroke-width="1" stroke-linejoin="round"/><polyline points="423.8,569.2 428,571.6" fill="none" stroke="#fff" stroke-width="0.8" stroke-linejoin="round" stroke-linecap="round"/><polyline points="426.1,570.6 430.4,573" fill="none" stroke="#fff" stroke-width="0.8" stroke-linejoin="round" stroke-linecap="round"/><polyline points="428.5,572 432.8,574.3" fill="none" stroke="#fff" stroke-width="0.8" stroke-linejoin="round" stroke-linecap="round"/><polyline points="430.9,573.3 435.1,575.7" fill="none" stroke="#fff" stroke-width="0.8" stroke-linejoin="round" stroke-linecap="round"/><polygon points="433.1,581.6 444.1,576.5 459.4,582.8 459.4,590.7 448.7,596.4 433.1,589" fill="#fff" stroke="#0c0c0c" stroke-width="1.6" stroke-linejoin="round"/><polyline points="433.1,581.6 448.7,588.8 459.4,582.8" fill="none" stroke="#0c0c0c" stroke-width="1.4" stroke-linejoin="round" stroke-linecap="round"/><polyline points="448.7,588.8 448.7,596.4" fill="none" stroke="#0c0c0c" stroke-width="1.4" stroke-linejoin="round" stroke-linecap="round"/><polyline points="431.4,589.3 450.1,598.6 455.2,596.1" fill="none" stroke="#0c0c0c" stroke-width="1.6" stroke-linejoin="round" stroke-linecap="round"/><ellipse cx="443" cy="613.1" rx="1.6" ry="1.3" fill="#0c0c0c" stroke="#0c0c0c" stroke-width="0.5" /><polyline points="439.9,611.4 448.4,619.9 452.6,621.6" fill="none" stroke="#0c0c0c" stroke-width="1" stroke-linejoin="round" stroke-linecap="round"/><polygon points="460.3,591 468.8,588.5 479,591 490.9,597 491.8,603.2 501.4,605.5 502.5,614.8 496,619.6 479.9,619.9 472.2,614.8 462.5,613.1 455.2,608.9 462,605.5" fill="#161616" stroke="#0c0c0c" stroke-width="1.2" stroke-linejoin="round"/><polyline points="459.4,584.5 462,591" fill="none" stroke="#0c0c0c" stroke-width="1.4" stroke-linejoin="round" stroke-linecap="round"/><polygon points="454.5,609.4 460.3,606.6 461.3,614.8 455.5,617.9" fill="#fff" stroke="#0c0c0c" stroke-width="1.2" stroke-linejoin="round"/><polygon points="462,584.5 466.2,586.8 466.2,594.7 462,592.7" fill="#fff" stroke="#0c0c0c" stroke-width="1" stroke-linejoin="round"/><polygon points="467.1,589.3 472.5,591.9 472.5,597.8 467.1,595.2" fill="#fff" stroke="#0c0c0c" stroke-width="1" stroke-linejoin="round"/><polygon points="477.3,591 485.8,595.8 485.8,601.2 477.3,597" fill="#fff" stroke="#0c0c0c" stroke-width="1" stroke-linejoin="round"/><polygon points="479,607.1 489.2,604.6 490.9,609.7 480.7,613.1" fill="#fff" stroke="#0c0c0c" stroke-width="1" stroke-linejoin="round"/><path d="M466.2,606.3 Q472.2,601.2 477.3,605.5" fill="none" stroke="#fff" stroke-width="1.6" /><polygon points="472.2,605.5 477.3,603.8 479,611.4 473.9,613.1" fill="#fff" stroke="#0c0c0c" stroke-width="0.8" stroke-linejoin="round"/><polygon points="456.6,614.8 462.5,612.9 462.5,644.5 460,642 457.8,628.4" fill="#fff" stroke="#0c0c0c" stroke-width="1.2" stroke-linejoin="round"/><polygon points="462.5,612.9 471,615.1 471,651.4 468.8,654.2 464,648.8 462.5,635.2" fill="#0c0c0c" stroke="#0c0c0c" stroke-width="1.2" stroke-linejoin="round"/><ellipse cx="466.8" cy="617.4" rx="1.6" ry="1" fill="#888" stroke="none" stroke-width="0" /><ellipse cx="466.8" cy="621.9" rx="1.6" ry="1" fill="#888" stroke="none" stroke-width="0" /><ellipse cx="466.8" cy="626.5" rx="1.6" ry="1" fill="#888" stroke="none" stroke-width="0" /><ellipse cx="466.8" cy="631.1" rx="1.6" ry="1" fill="#888" stroke="none" stroke-width="0" /><ellipse cx="466.8" cy="635.7" rx="1.6" ry="1" fill="#888" stroke="none" stroke-width="0" /><ellipse cx="466.8" cy="640.3" rx="1.6" ry="1" fill="#888" stroke="none" stroke-width="0" /><ellipse cx="466.8" cy="644.9" rx="1.6" ry="1" fill="#888" stroke="none" stroke-width="0" /><polygon points="471,619.6 478.5,621.6 478.5,656.3 474.8,654.9 471,653.6" fill="#fff" stroke="#0c0c0c" stroke-width="1.7" stroke-linejoin="round"/><polyline points="474.8,621.6 474.8,654.9" fill="none" stroke="#666" stroke-width="0.8" stroke-linejoin="round" stroke-linecap="round"/><polygon points="479,619.2 499.1,612.8 500.1,620.9 479.5,630.1" fill="#fff" stroke="#0c0c0c" stroke-width="1.6" stroke-linejoin="round"/><polygon points="479.5,631.1 501.9,621.9 501.9,631.1 480,642.3" fill="#fff" stroke="#0c0c0c" stroke-width="1.6" stroke-linejoin="round"/><polyline points="451.8,642 457.8,623.3" fill="none" stroke="#0c0c0c" stroke-width="1" stroke-linejoin="round" stroke-linecap="round"/><polygon points="504.5,608 523.2,614.8 524.9,623.3 513,633.2 505.4,628.7 504.5,621.6" fill="#fff" stroke="#0c0c0c" stroke-width="1.5" stroke-linejoin="round"/><polyline points="504.5,621.6 513.9,625.9 524,619.9" fill="none" stroke="#0c0c0c" stroke-width="1.3" stroke-linejoin="round" stroke-linecap="round"/><polyline points="513.9,625.9 513,633.2" fill="none" stroke="#0c0c0c" stroke-width="1.3" stroke-linejoin="round" stroke-linecap="round"/><polygon points="508.2,617.4 513.9,619.6 513.9,623.3 508.2,621.3" fill="#fff" stroke="#0c0c0c" stroke-width="1.3" stroke-linejoin="round"/><polyline points="494.3,599.5 504.5,605.5 504.5,611.4" fill="none" stroke="#0c0c0c" stroke-width="1.5" stroke-linejoin="round" stroke-linecap="round"/><polyline points="485.8,596.1 496,601.2 496,608" fill="none" stroke="#0c0c0c" stroke-width="1.3" stroke-linejoin="round" stroke-linecap="round"/><polyline points="489.2,592.7 501.1,599.5" fill="none" stroke="#0c0c0c" stroke-width="1.2" stroke-linejoin="round" stroke-linecap="round"/><path d="M449.3,699.1 L449,708.9 Q449.6,714.4 456.1,713.3 L484.4,695.9" fill="none" stroke="#0c0c0c" stroke-width="5.2" stroke-linecap="round" stroke-linejoin="round"/><path d="M449.3,699.1 L449,708.9 Q449.6,714.4 456.1,713.3 L484.4,695.9" fill="none" stroke="#fff" stroke-width="2.4" stroke-linecap="round" stroke-linejoin="round"/><path d="M454.5,699.1 L462.9,704.4" fill="none" stroke="#0c0c0c" stroke-width="4" stroke-linecap="round" stroke-linejoin="round"/><path d="M454.5,699.1 L462.9,704.4" fill="none" stroke="#fff" stroke-width="1.2" stroke-linecap="round" stroke-linejoin="round"/><polygon points="412.9,678.5 418.4,671.7 454.2,691.5 456.3,695.9 453.5,700.8 447.5,700.1" fill="#fff" stroke="#0c0c0c" stroke-width="1.7" stroke-linejoin="round"/><ellipse cx="451.6" cy="696.2" rx="4.2" ry="5.6" fill="#fff" stroke="#0c0c0c" stroke-width="1.5" transform="rotate(25 451.6 696.2)"/><polygon points="407.4,671.2 411.3,669.9 415.2,673.5 413.2,676.9 409,675.1" fill="#fff" stroke="#0c0c0c" stroke-width="1.8" stroke-linejoin="round"/><polygon points="453.9,697.2 457.1,695.9 463.6,703 461,704" fill="#0c0c0c" stroke="#0c0c0c" stroke-width="1" stroke-linejoin="round"/><polygon points="379.4,647.5 382.4,644.5 386.4,646.8 386.4,663.7 383,665.7 379.4,662.9" fill="#fff" stroke="#0c0c0c" stroke-width="2.2" stroke-linejoin="round"/><polygon points="386.4,653.6 394.1,657.5 396,665.4 392.8,670.5 396.6,671.2 396,673.1 389.5,675.4 385.9,671.2 386.4,666" fill="#0c0c0c" stroke="#0c0c0c" stroke-width="1.2" stroke-linejoin="round"/><ellipse cx="390.8" cy="663.4" rx="1.7" ry="2.6" fill="#fff" stroke="none" stroke-width="0" transform="rotate(25 390.8 663.4)"/><path d="M555.9,642.7 C562.2,637.5 572,636.8 579,642.4 C586,648 590.2,655 588.5,659.9 L583.9,664.8 L579.7,668.3 C578.3,660.6 572,653.6 564.3,648.7 C561.5,645.2 560.1,644.1 555.9,642.7 Z" fill="#0c0c0c" stroke="#0c0c0c" stroke-width="1" /><path d="M544.7,671.8 C546.1,663.4 553.8,657.1 562.9,655.7 C567.8,655 572,656.7 573.4,658.5 L570.6,661.3 C565,660.6 558,663.4 553.1,669 C550.3,673.9 549.6,677.4 549.3,681.3 C546.8,681.6 544.7,678.8 544.7,671.8 Z" fill="#0c0c0c" stroke="#0c0c0c" stroke-width="1" /><line x1="566.7" y1="648" x2="586" y2="659.9" stroke="#666" stroke-width="0.9" /><line x1="569.2" y1="645.2" x2="587.4" y2="656.7" stroke="#555" stroke-width="0.8" /><ellipse cx="568.9" cy="666.9" rx="6.2" ry="6" fill="none" stroke="#0c0c0c" stroke-width="1.8" /><path d="M572,662 Q567.8,670.4 565,686.9" fill="none" stroke="#0c0c0c" stroke-width="2.6" stroke-linecap="round"/><path d="M566.7,673.2 L563.6,680.2" fill="none" stroke="#0c0c0c" stroke-width="1.4" /><polygon points="575.5,659.9 580.4,662 579.3,669 576.2,668.3" fill="#0c0c0c" stroke="#0c0c0c" stroke-width="1" stroke-linejoin="round"/><polygon points="599.3,706.8 609.8,676.3 640.6,665.5 645.9,666.9 645.9,653.3 652.9,655 654,706.1 646.5,718.3 606.3,732.3 600,731.3" fill="#fff" stroke="#0c0c0c" stroke-width="2" stroke-linejoin="round"/><polyline points="602.8,709.6 612.6,679.5 642,669 647.3,670.4" fill="none" stroke="#0c0c0c" stroke-width="1.3" stroke-linejoin="round" stroke-linecap="round"/><polyline points="602.8,709.6 602.8,723.6 606.3,727.8" fill="none" stroke="#0c0c0c" stroke-width="1.3" stroke-linejoin="round" stroke-linecap="round"/><polyline points="648.3,656.4 648.7,664.8 650.4,704" fill="none" stroke="#0c0c0c" stroke-width="1.2" stroke-linejoin="round" stroke-linecap="round"/><polyline points="600,730.6 608.4,725 646.2,712.4 653.2,705.4" fill="none" stroke="#0c0c0c" stroke-width="2.2" stroke-linejoin="round" stroke-linecap="round"/><polygon points="600,727.8 608.4,724.3 610.5,730.6 602.8,733.4" fill="#0c0c0c" stroke="#0c0c0c" stroke-width="1" stroke-linejoin="round"/><polyline points="599.3,709.6 600,723.6" fill="none" stroke="#888" stroke-width="1" stroke-linejoin="round" stroke-linecap="round"/><ellipse cx="628" cy="698.4" rx="19.5" ry="25.5" fill="#fff" stroke="#0c0c0c" stroke-width="2.2" transform="rotate(14 628 698.4)"/><ellipse cx="628.5" cy="698.4" rx="16.8" ry="22.5" fill="none" stroke="#0c0c0c" stroke-width="1.1" transform="rotate(14 628 698.4)"/><line x1="631.9" y1="700.9" x2="631.9" y2="674.9" stroke="#0c0c0c" stroke-width="4.2" /><line x1="631.9" y1="700.9" x2="614" y2="718" stroke="#0c0c0c" stroke-width="4.2" /><line x1="631.9" y1="700.9" x2="652.9" y2="705.7" stroke="#0c0c0c" stroke-width="3.6" /><ellipse cx="631.9" cy="700.9" rx="6" ry="6.4" fill="#0c0c0c" stroke="#0c0c0c" stroke-width="1" /><ellipse cx="632.2" cy="701.2" rx="2.2" ry="2.8" fill="#fff" stroke="none" stroke-width="0" /><polygon points="646.9,656.7 651.5,657.5 651.5,662 647.3,661.4" fill="#fff" stroke="#0c0c0c" stroke-width="1.4" stroke-linejoin="round"/><line x1="450" y1="469" x2="455.5" y2="527.1" stroke="#0c0c0c" stroke-width="4.8" stroke-linecap="round"/><line x1="451.65" y1="486.43" x2="455.335" y2="525.357" stroke="#fff" stroke-width="2" /><line x1="450" y1="469" x2="451.65" y2="486.43" stroke="#0c0c0c" stroke-width="7" stroke-linecap="round"/><line x1="452.42" y1="494.564" x2="453.19" y2="502.698" stroke="#0c0c0c" stroke-width="6" /><line x1="452.585" y1="496.307" x2="453.025" y2="500.955" stroke="#777" stroke-width="1.2" /><line x1="451.98" y1="489.916" x2="452.145" y2="491.659" stroke="#0c0c0c" stroke-width="5.4" /><line x1="454.62" y1="517.804" x2="454.895" y2="520.709" stroke="#0c0c0c" stroke-width="5.6" /><line x1="450.275" y1="471.905" x2="451.375" y2="483.525" stroke="#777" stroke-width="1.4" /><ellipse cx="450" cy="469.3" rx="2.4" ry="1.5" fill="#555" stroke="#0c0c0c" stroke-width="1" /><ellipse cx="455.5" cy="527.1" rx="1.6" ry="1.9" fill="#fff" stroke="#0c0c0c" stroke-width="1.3" /><line x1="539.2" y1="512.4" x2="544.2" y2="570.1" stroke="#0c0c0c" stroke-width="4.8" stroke-linecap="round"/><line x1="540.7" y1="529.71" x2="544.05" y2="568.369" stroke="#fff" stroke-width="2" /><line x1="539.2" y1="512.4" x2="540.7" y2="529.71" stroke="#0c0c0c" stroke-width="7" stroke-linecap="round"/><line x1="541.4" y1="537.788" x2="542.1" y2="545.866" stroke="#0c0c0c" stroke-width="6" /><line x1="541.55" y1="539.519" x2="541.95" y2="544.135" stroke="#777" stroke-width="1.2" /><line x1="541" y1="533.172" x2="541.15" y2="534.903" stroke="#0c0c0c" stroke-width="5.4" /><line x1="543.4" y1="560.868" x2="543.65" y2="563.753" stroke="#0c0c0c" stroke-width="5.6" /><line x1="539.45" y1="515.285" x2="540.45" y2="526.825" stroke="#777" stroke-width="1.4" /><ellipse cx="539.2" cy="512.7" rx="2.4" ry="1.5" fill="#555" stroke="#0c0c0c" stroke-width="1" /><ellipse cx="544.2" cy="570.1" rx="1.6" ry="1.9" fill="#fff" stroke="#0c0c0c" stroke-width="1.3" /><polygon points="665.5,446.2 668,445 974,619.5 977,623 977.5,727 972,730 668.3,554 665.5,549" fill="#fff" stroke="#0c0c0c" stroke-width="2.8" stroke-linejoin="round"/><line x1="668" y1="451.5" x2="973" y2="625" stroke="#0c0c0c" stroke-width="1" /><polyline points="680.7,455.9 680.7,492 683.5,496.8 691.1,498.7" fill="none" stroke="#0c0c0c" stroke-width="2.4" stroke-linejoin="round" stroke-linecap="round"/><polyline points="684.5,457.8 684.5,490.1 690.2,495.9" fill="none" stroke="#0c0c0c" stroke-width="1" stroke-linejoin="round" stroke-linecap="round"/><polyline points="692.1,467.3 692.1,497.8" fill="none" stroke="#0c0c0c" stroke-width="1.2" stroke-linejoin="round" stroke-linecap="round"/><polygon points="681.6,451.2 694,455.9 694,459.3 681.6,454" fill="#0c0c0c" stroke="#0c0c0c" stroke-width="1" stroke-linejoin="round"/><line x1="695.9" y1="470.2" x2="794.8" y2="524.4" stroke="#222" stroke-width="2.4" stroke-dasharray="0.9 0.9"/><line x1="695.9" y1="468.6" x2="794.8" y2="522.8" stroke="#0c0c0c" stroke-width="0.8" /><polyline points="669.3,452.1 669.3,541.5 674,549.1" fill="none" stroke="#333" stroke-width="0.9" stroke-linejoin="round" stroke-linecap="round"/><path d="M672.5,460.7 q2,-3 4,0 q-1,3 -4,2" fill="none" stroke="#0c0c0c" stroke-width="1.2" /><path d="M679.7,518.7 C680.7,512 688.3,511.1 693,514.9 L695.9,518.7 C697.8,524.4 697.8,545.3 694,551 L689.2,550.6 C683.5,547.2 679.7,543.4 679.3,530.1 Z" fill="#fff" stroke="#0c0c0c" stroke-width="2" /><polyline points="677.8,497.8 679.7,495.9 691.1,498.7 706.3,506.3 711.1,513 711.1,560.5 708.2,564.3 700.6,560.5" fill="none" stroke="#0c0c0c" stroke-width="1.4" stroke-linejoin="round" stroke-linecap="round"/><polyline points="678.8,500.6 690.2,503.5 699.7,510.1 702.5,514.9 702.5,556.7" fill="none" stroke="#0c0c0c" stroke-width="1" stroke-linejoin="round" stroke-linecap="round"/><path d="M690.2,503.5 Q683.5,511.1 677.8,516.8 Q673.1,520.6 672.1,513.9" fill="none" stroke="#0c0c0c" stroke-width="1.6" /><ellipse cx="672.5" cy="514.5" rx="1.8" ry="1.8" fill="#0c0c0c" stroke="#0c0c0c" stroke-width="1" /><polyline points="677.8,499.7 677.8,547.2 685.4,552.9" fill="none" stroke="#0c0c0c" stroke-width="1" stroke-linejoin="round" stroke-linecap="round"/><polygon points="666.8,545.3 687.3,556.7 687.3,561.5 668.3,552.5" fill="#2a2a2a" stroke="#0c0c0c" stroke-width="1" stroke-linejoin="round"/><line x1="670.2" y1="549.1" x2="686.4" y2="558.2" stroke="#fff" stroke-width="0.9" stroke-dasharray="1.5 1.5"/><polygon points="692.1,558.6 709.2,566.2 708.2,569.6 691.1,562" fill="#fff" stroke="#0c0c0c" stroke-width="1.2" stroke-linejoin="round"/><polygon points="712,568.1 720.6,572.3 717.8,576.7" fill="#0c0c0c" stroke="#0c0c0c" stroke-width="1" stroke-linejoin="round"/><polygon points="713,511.1 756.7,532.9 756.7,593.2 713,571.5" fill="#0c0c0c" stroke="#0c0c0c" stroke-width="1.2" /><line x1="720.6" y1="520.7" x2="720.6" y2="541.5" stroke="#fff" stroke-width="0.5" /><line x1="720.6" y1="551.9" x2="720.6" y2="571.9" stroke="#fff" stroke-width="0.5" /><line x1="725" y1="527.6" x2="725" y2="542.7" stroke="#fff" stroke-width="0.5" /><line x1="725" y1="553.2" x2="725" y2="574.1" stroke="#fff" stroke-width="0.5" /><line x1="729.2" y1="524.9" x2="729.2" y2="545.8" stroke="#fff" stroke-width="1" /><line x1="729.2" y1="556.2" x2="729.2" y2="576.2" stroke="#fff" stroke-width="1" /><line x1="733.5" y1="531.9" x2="733.5" y2="547" stroke="#fff" stroke-width="1" /><line x1="733.5" y1="557.5" x2="733.5" y2="578.4" stroke="#fff" stroke-width="1" /><line x1="737.9" y1="529.3" x2="737.9" y2="550.1" stroke="#fff" stroke-width="1" /><line x1="737.9" y1="560.6" x2="737.9" y2="580.6" stroke="#fff" stroke-width="1" /><line x1="742.1" y1="536.2" x2="742.1" y2="551.3" stroke="#fff" stroke-width="1" /><line x1="742.1" y1="561.7" x2="742.1" y2="582.7" stroke="#fff" stroke-width="1" /><line x1="746.5" y1="533.6" x2="746.5" y2="554.4" stroke="#fff" stroke-width="1" /><line x1="746.5" y1="564.9" x2="746.5" y2="584.8" stroke="#fff" stroke-width="1" /><line x1="750.6" y1="540.4" x2="750.6" y2="555.6" stroke="#fff" stroke-width="1" /><line x1="750.6" y1="566" x2="750.6" y2="586.9" stroke="#fff" stroke-width="1" /><line x1="754.5" y1="537.6" x2="754.5" y2="558.4" stroke="#fff" stroke-width="1" /><line x1="754.5" y1="568.9" x2="754.5" y2="588.8" stroke="#fff" stroke-width="1" /><line x1="714.9" y1="543.4" x2="754.8" y2="564.3" stroke="#ddd" stroke-width="0.9" stroke-dasharray="1 3.4"/><line x1="720.6" y1="574.8" x2="773.8" y2="607.1" stroke="#1c1c1c" stroke-width="3.6" stroke-dasharray="1.0 0.7"/><polygon points="773.8,529.1 778.6,526.8 784.7,529.7 784.7,613.7 779.6,615.6 773.8,609.6" fill="#fff" stroke="#0c0c0c" stroke-width="1.4" stroke-linejoin="round"/><polyline points="773.8,529.1 779.6,531.6 784.7,529.7" fill="none" stroke="#0c0c0c" stroke-width="1.2" stroke-linejoin="round" stroke-linecap="round"/><polyline points="779.6,531.6 779.6,615.6" fill="none" stroke="#0c0c0c" stroke-width="1.2" stroke-linejoin="round" stroke-linecap="round"/><polyline points="796.7,524.4 797.2,596.6 789.1,593.8 788.1,613.7 799.5,620.4" fill="none" stroke="#0c0c0c" stroke-width="2.2" stroke-linejoin="round" stroke-linecap="round"/><polyline points="801.4,528.2 801.8,603.3 792.9,600.4 792.3,611.8" fill="none" stroke="#0c0c0c" stroke-width="1.4" stroke-linejoin="round" stroke-linecap="round"/><polygon points="792.3,524.4 797.6,525.9 797.6,530.1 792.3,528.2" fill="#0c0c0c" stroke="#0c0c0c" stroke-width="1" stroke-linejoin="round"/><polygon points="798.6,519.6 807.1,524 825,533.9 825,535.8 799.5,522.1" fill="#0c0c0c" stroke="#0c0c0c" stroke-width="0.8" stroke-linejoin="round"/><line x1="801.4" y1="523.9" x2="832.4" y2="540.4" stroke="#999" stroke-width="0.8" stroke-dasharray="1 1"/><polyline points="810,550.6 820.2,558.8" fill="none" stroke="#0c0c0c" stroke-width="1.2" stroke-linejoin="round" stroke-linecap="round"/><polyline points="820.6,558.8 825.3,556.3 832,560 830.8,564.1 825.5,562 821,564.1 820.6,615.9 835.5,623.3 836.5,638 829.4,639.6 810,629.2" fill="none" stroke="#0c0c0c" stroke-width="2" stroke-linejoin="round" stroke-linecap="round"/><polyline points="810,544.5 820.2,550.6" fill="none" stroke="#0c0c0c" stroke-width="1" stroke-linejoin="round" stroke-linecap="round"/><polygon points="810,622 829.4,634.3 829.4,640.4 810,629.2" fill="#222" stroke="#0c0c0c" stroke-width="1" stroke-linejoin="round"/><line x1="810" y1="625.7" x2="828.4" y2="637.3" stroke="#aaa" stroke-width="0.8" stroke-dasharray="1 1"/><ellipse cx="836.5" cy="554.3" rx="2.6" ry="2.8" fill="#fff" stroke="#0c0c0c" stroke-width="1.5" /><ellipse cx="843.7" cy="627.1" rx="2" ry="2.2" fill="#555" stroke="#0c0c0c" stroke-width="1.2" /><ellipse cx="960.4" cy="628.6" rx="2" ry="2.2" fill="#555" stroke="#0c0c0c" stroke-width="1.2" /><ellipse cx="971.2" cy="626.5" rx="2" ry="2.4" fill="#0c0c0c" stroke="#0c0c0c" stroke-width="1.2" /><ellipse cx="840.6" cy="585.3" rx="2.4" ry="1.3" fill="#fff" stroke="#0c0c0c" stroke-width="1.3" transform="rotate(30 840.6 585.3)"/><ellipse cx="848" cy="590.8" rx="2.4" ry="1.3" fill="#fff" stroke="#0c0c0c" stroke-width="1.3" transform="rotate(-30 848 590.8)"/><ellipse cx="844.3" cy="598" rx="2.4" ry="1.3" fill="#fff" stroke="#0c0c0c" stroke-width="1.3" transform="rotate(80 844.3 598)"/><line x1="847.8" y1="556.7" x2="881.4" y2="575.5" stroke="#222" stroke-width="2" stroke-dasharray="0.9 0.9"/><line x1="936.5" y1="607.3" x2="959" y2="620" stroke="#222" stroke-width="2" stroke-dasharray="0.9 0.9"/><polyline points="934.5,605.7 934.5,626.1" fill="none" stroke="#0c0c0c" stroke-width="1" stroke-linejoin="round" stroke-linecap="round"/><polygon points="885.9,578.8 934.1,607.3 933.7,627.8 886.3,604.1" fill="#2b2b2b" stroke="#0c0c0c" stroke-width="1.6" stroke-linejoin="round"/><polygon points="893.3,586.9 929.6,608.2 929.6,622.4 893.3,601.2" fill="#fff" stroke="#0c0c0c" stroke-width="1.2" stroke-linejoin="round"/><line x1="890" y1="603.7" x2="890" y2="607.3" stroke="#bbb" stroke-width="0.5" /><line x1="893" y1="605.3" x2="893" y2="609" stroke="#bbb" stroke-width="0.5" /><line x1="895.9" y1="607" x2="895.9" y2="610.7" stroke="#bbb" stroke-width="0.5" /><line x1="898.9" y1="608.7" x2="898.9" y2="612.4" stroke="#bbb" stroke-width="0.5" /><line x1="901.8" y1="610.4" x2="901.8" y2="614" stroke="#bbb" stroke-width="0.5" /><line x1="904.8" y1="612" x2="904.8" y2="615.7" stroke="#bbb" stroke-width="0.5" /><line x1="907.8" y1="613.7" x2="907.8" y2="617.4" stroke="#bbb" stroke-width="0.5" /><line x1="910.7" y1="615.4" x2="910.7" y2="619.1" stroke="#bbb" stroke-width="0.5" /><line x1="913.7" y1="617.1" x2="913.7" y2="620.7" stroke="#bbb" stroke-width="0.5" /><line x1="916.6" y1="618.7" x2="916.6" y2="622.4" stroke="#bbb" stroke-width="0.5" /><line x1="919.6" y1="620.4" x2="919.6" y2="624.1" stroke="#bbb" stroke-width="0.5" /><line x1="922.6" y1="622.1" x2="922.6" y2="625.8" stroke="#bbb" stroke-width="0.5" /><line x1="925.5" y1="623.8" x2="925.5" y2="627.4" stroke="#bbb" stroke-width="0.5" /><line x1="928.5" y1="625.4" x2="928.5" y2="629.1" stroke="#bbb" stroke-width="0.5" /><rect x="916.5" y="631.8" width="3.2" height="26.1224" rx="1.6" fill="#fff" stroke="#0c0c0c" stroke-width="1.45"/><rect x="920.9" y="634.2" width="3.2" height="26.1224" rx="1.6" fill="#fff" stroke="#0c0c0c" stroke-width="1.45"/><rect x="925.2" y="636.5" width="3.2" height="26.1224" rx="1.6" fill="#fff" stroke="#0c0c0c" stroke-width="1.45"/><rect x="929.6" y="638.8" width="3.2" height="26.1224" rx="1.6" fill="#fff" stroke="#0c0c0c" stroke-width="1.45"/><rect x="933.9" y="641.1" width="3.2" height="26.1224" rx="1.6" fill="#fff" stroke="#0c0c0c" stroke-width="1.45"/><rect x="938.3" y="643.5" width="3.2" height="26.1224" rx="1.6" fill="#fff" stroke="#0c0c0c" stroke-width="1.45"/><rect x="942.6" y="645.8" width="3.2" height="26.1224" rx="1.6" fill="#fff" stroke="#0c0c0c" stroke-width="1.45"/><rect x="947" y="648.1" width="3.2" height="26.1224" rx="1.6" fill="#fff" stroke="#0c0c0c" stroke-width="1.45"/><rect x="951.3" y="650.4" width="3.2" height="26.1224" rx="1.6" fill="#fff" stroke="#0c0c0c" stroke-width="1.45"/><rect x="955.7" y="652.8" width="3.2" height="26.1224" rx="1.6" fill="#fff" stroke="#0c0c0c" stroke-width="1.45"/><rect x="960" y="655.1" width="3.2" height="26.1224" rx="1.6" fill="#fff" stroke="#0c0c0c" stroke-width="1.45"/><rect x="964.3" y="657.4" width="3.2" height="26.1224" rx="1.6" fill="#fff" stroke="#0c0c0c" stroke-width="1.45"/><rect x="968.7" y="659.7" width="3.2" height="26.1224" rx="1.6" fill="#fff" stroke="#0c0c0c" stroke-width="1.45"/><rect x="916.5" y="664.1" width="3.2" height="24.0816" rx="1.6" fill="#fff" stroke="#0c0c0c" stroke-width="1.45"/><rect x="920.9" y="666.4" width="3.2" height="24.0816" rx="1.6" fill="#fff" stroke="#0c0c0c" stroke-width="1.45"/><rect x="925.2" y="668.7" width="3.2" height="24.0816" rx="1.6" fill="#fff" stroke="#0c0c0c" stroke-width="1.45"/><rect x="929.6" y="671.1" width="3.2" height="24.0816" rx="1.6" fill="#fff" stroke="#0c0c0c" stroke-width="1.45"/><rect x="933.9" y="673.4" width="3.2" height="24.0816" rx="1.6" fill="#fff" stroke="#0c0c0c" stroke-width="1.45"/><rect x="938.3" y="675.7" width="3.2" height="24.0816" rx="1.6" fill="#fff" stroke="#0c0c0c" stroke-width="1.45"/><rect x="942.6" y="678" width="3.2" height="24.0816" rx="1.6" fill="#fff" stroke="#0c0c0c" stroke-width="1.45"/><rect x="947" y="680.4" width="3.2" height="24.0816" rx="1.6" fill="#fff" stroke="#0c0c0c" stroke-width="1.45"/><rect x="951.3" y="682.7" width="3.2" height="24.0816" rx="1.6" fill="#fff" stroke="#0c0c0c" stroke-width="1.45"/><rect x="955.7" y="685" width="3.2" height="24.0816" rx="1.6" fill="#fff" stroke="#0c0c0c" stroke-width="1.45"/><rect x="960" y="687.3" width="3.2" height="24.0816" rx="1.6" fill="#fff" stroke="#0c0c0c" stroke-width="1.45"/><rect x="964.3" y="689.7" width="3.2" height="24.0816" rx="1.6" fill="#fff" stroke="#0c0c0c" stroke-width="1.45"/><rect x="968.7" y="692" width="3.2" height="24.0816" rx="1.6" fill="#fff" stroke="#0c0c0c" stroke-width="1.45"/><line x1="883.9" y1="671.4" x2="952.9" y2="707.8" stroke="#1c1c1c" stroke-width="3.4" stroke-dasharray="1.5 0.45"/><line x1="690" y1="561.864" x2="968" y2="722.826" stroke="#0c0c0c" stroke-width="1" /><polyline points="830.4,640.4 848.8,650.6" fill="none" stroke="#0c0c0c" stroke-width="1.8" stroke-linejoin="round" stroke-linecap="round"/><polyline points="858,656.3 884.5,671" fill="none" stroke="#0c0c0c" stroke-width="1.6" stroke-linejoin="round" stroke-linecap="round"/><polyline points="831.4,644.5 847.8,653.7" fill="none" stroke="#0c0c0c" stroke-width="1" stroke-linejoin="round" stroke-linecap="round"/><polyline points="859,660.8 883.5,674.7" fill="none" stroke="#0c0c0c" stroke-width="1" stroke-linejoin="round" stroke-linecap="round"/><polygon points="848.4,649 856.5,652.7 856.9,659.2 848.8,656.3" fill="#fff" stroke="#0c0c0c" stroke-width="1.6" stroke-linejoin="round"/><ellipse cx="853.3" cy="654.7" rx="1.4" ry="1.6" fill="#0c0c0c" stroke="#0c0c0c" stroke-width="0.8" /><polygon points="950.8,704.7 961,710.8 960,714.9 950.8,709.8" fill="#333" stroke="#0c0c0c" stroke-width="0.8" stroke-linejoin="round"/><polyline points="952.9,706.7 971.2,716.9 971.2,725.1" fill="none" stroke="#0c0c0c" stroke-width="1.2" stroke-linejoin="round" stroke-linecap="round"/><polygon points="962,716.9 969.2,720.4 969.2,724.1 962,721" fill="#fff" stroke="#0c0c0c" stroke-width="1.2" stroke-linejoin="round"/><line x1="971.5" y1="628" x2="972" y2="722" stroke="#0c0c0c" stroke-width="1" /><polygon points="0.7,835 9.1,830 20.8,830.4 49.4,848 49.1,857.7 41.3,862.4 37.7,861.9 0.7,838.5" fill="#fff" stroke="#0c0c0c" stroke-width="1.6" stroke-linejoin="round"/><polyline points="0.7,835 39,857.7 49.1,852.5" fill="none" stroke="#0c0c0c" stroke-width="1.3" stroke-linejoin="round" stroke-linecap="round"/><polyline points="39,857.7 39,861.9" fill="none" stroke="#0c0c0c" stroke-width="1.2" stroke-linejoin="round" stroke-linecap="round"/><polygon points="89.7,806.4 110.5,818.4 110,822.6 103,826.8 91,826.2 89.7,822.6" fill="#fff" stroke="#0c0c0c" stroke-width="1.6" stroke-linejoin="round"/><polyline points="91,822.6 103,823.1 110.5,818.7" fill="none" stroke="#0c0c0c" stroke-width="1.2" stroke-linejoin="round" stroke-linecap="round"/><polyline points="103,823.1 103,826.8" fill="none" stroke="#0c0c0c" stroke-width="1.1" stroke-linejoin="round" stroke-linecap="round"/><ellipse cx="40.6" cy="852.8" rx="3.6" ry="2.6" fill="#ccc" stroke="#0c0c0c" stroke-width="1.4" /><ellipse cx="100.4" cy="818.2" rx="3.4" ry="2.4" fill="#ccc" stroke="#0c0c0c" stroke-width="1.4" /><path d="M20.1,788.8 C22.1,774.5 39,767.4 58.5,766.4 C72.8,766 89.7,774.5 91,788.8 L92.6,799.2 L89.7,823.9 C88.4,830.4 83.2,832.4 78,834.3 L55.9,845.4 C42.9,848 23.4,843.4 20.8,833 Z" fill="#fff" stroke="#0c0c0c" stroke-width="2" stroke-linejoin="round"/><path d="M23.4,783 C26,773.2 42.9,768 61.1,767.4 C76.7,767.4 88.4,777.1 89.4,786.2 C88.4,794 72.8,800.5 58.5,803.4 C42.9,800.5 26,791.4 23.4,783 Z" fill="#fff" stroke="#0c0c0c" stroke-width="1.6" /><path d="M17.2,805 C26,812.2 42.9,816.1 55.9,815.8 C72.8,814.8 89.7,805.7 92.6,797.9" fill="none" stroke="#0c0c0c" stroke-width="1.8" /><path d="M17.2,809.2 C26,816.4 42.9,820.3 55.9,820 C72.8,819 89.7,809.9 92.6,802.1" fill="none" stroke="#0c0c0c" stroke-width="1.4" /><path d="M17.2,812.6 C26,819.7 42.9,823.6 55.9,823.4 C72.8,822.3 89.7,813.2 92.6,805.4" fill="none" stroke="#0c0c0c" stroke-width="1.8" /><path d="M17.4,805 Q15.6,809 17.7,812.9" fill="none" stroke="#0c0c0c" stroke-width="1.6" /><path d="M92.6,797.9 Q94.2,801.8 92.3,806" fill="none" stroke="#0c0c0c" stroke-width="1.6" /><path d="M20.8,792.7 C32.5,799.2 45.5,806.4 58.5,807" fill="none" stroke="#0c0c0c" stroke-width="1.2" /><path d="M58.5,807 C72.8,805 84.5,799.2 91,790.1" fill="none" stroke="#0c0c0c" stroke-width="1.2" /><line x1="86.8" y1="794" x2="86.8" y2="801.8" stroke="#999" stroke-width="2.2" /><line x1="85.8" y1="813.5" x2="85.8" y2="829.1" stroke="#aaa" stroke-width="2.6" /><polygon points="254,784 257,774.5 258.5,773.5 269.4,779.7 270.8,783.4 277.6,787.3 278.9,783.5 283,785.9 284.4,789.6 296.6,796.6 299.4,800.6 304.8,803.7 306.2,802 340.2,821.2 343,825.7 351.1,830.4 352.5,828.1 400.2,855.1 401.6,852.9 408.4,856.7 409.7,861.5 422,868.4 423.4,867.7 492.9,906.9 494.2,904.2 501,908.1 502.4,912.3 531,927.5 532,934 520,934 267,791" fill="#fff" stroke="#0c0c0c" stroke-width="1.5" stroke-linejoin="round"/><line x1="262" y1="783" x2="520" y2="928" stroke="#0c0c0c" stroke-width="0.9" /><polygon points="181.8,823.6 182.8,822 254,784 267,788.6 520,928 531,933 530,938 455,982.4 452,981 218,843.4 205,837.4 184,826.6" fill="#fff" stroke="#0c0c0c" stroke-width="1.8" stroke-linejoin="round"/><line x1="270" y1="792" x2="512.4" y2="933.6" stroke="#151515" stroke-width="6.6" /><line x1="270" y1="791.4" x2="512.4" y2="933" stroke="#8a8a8a" stroke-width="1.6" stroke-dasharray="0.9 1.1"/><line x1="272" y1="796.6" x2="510.4" y2="936.2" stroke="#0c0c0c" stroke-width="1.2" /><line x1="274" y1="787" x2="516.4" y2="928.6" stroke="#0c0c0c" stroke-width="1" /><line x1="213" y1="809.6" x2="244.6" y2="791.5" stroke="#151515" stroke-width="6.6" /><line x1="213" y1="809.6" x2="244.6" y2="791.5" stroke="#8a8a8a" stroke-width="1.6" stroke-dasharray="0.9 1.1"/><line x1="214" y1="812" x2="245.6" y2="793.9" stroke="#777" stroke-width="0.9" stroke-dasharray="0.9 1.1"/><polygon points="210.1,811.3 214,809 216.9,812.9 216.6,822 210.8,821.4" fill="#222" stroke="#0c0c0c" stroke-width="1" stroke-linejoin="round"/><polygon points="242.6,789.8 253,788.2 268.6,789.5 270.6,794.4 258.2,796.6 244.6,796" fill="#0c0c0c" stroke="#0c0c0c" stroke-width="1" stroke-linejoin="round"/><ellipse cx="254.3" cy="786.2" rx="2" ry="1.3" fill="#0c0c0c" stroke="#0c0c0c" stroke-width="0.6" /><line x1="187.3" y1="821.7" x2="203.3" y2="815.8" stroke="#151515" stroke-width="3.2" stroke-linecap="round"/><line x1="188" y1="821.5" x2="202.6" y2="816" stroke="#999" stroke-width="0.9" stroke-dasharray="0.8 1.2"/><polygon points="191.6,827.2 205.2,822 215.6,828.8 202.6,836.6" fill="#111" stroke="#0c0c0c" stroke-width="1.5" stroke-linejoin="round"/><ellipse cx="198.4" cy="827.2" rx="0.9" ry="0.7" fill="#aaa" stroke="none" stroke-width="0" /><ellipse cx="202.9" cy="829.8" rx="0.9" ry="0.7" fill="#aaa" stroke="none" stroke-width="0" /><ellipse cx="207.5" cy="828.5" rx="0.9" ry="0.7" fill="#aaa" stroke="none" stroke-width="0" /><ellipse cx="201" cy="832.4" rx="0.9" ry="0.7" fill="#aaa" stroke="none" stroke-width="0" /><line x1="217.4" y1="837.4" x2="267.4" y2="863.4" stroke="#111" stroke-width="9.4" stroke-linecap="round"/><line x1="218.4" y1="835.8" x2="266.4" y2="861.8" stroke="#aaa" stroke-width="1.6" stroke-dasharray="1.1 2.0"/><line x1="217.4" y1="839.4" x2="265.4" y2="865.4" stroke="#999" stroke-width="1.4" stroke-dasharray="1.0 2.1"/><line x1="348" y1="913.6" x2="458" y2="973.6" stroke="#111" stroke-width="11" stroke-linecap="butt"/><line x1="348" y1="911.4" x2="458" y2="971.4" stroke="#bbb" stroke-width="2.6" stroke-dasharray="1.0 2.3"/><line x1="347" y1="916" x2="457" y2="976" stroke="#aaa" stroke-width="2.2" stroke-dasharray="0.9 2.4"/><polygon points="452,968 468,968 466,974 455,981" fill="#111" stroke="#0c0c0c" stroke-width="1" stroke-linejoin="round"/><line x1="224.4" y1="822.6" x2="255.6" y2="840.2" stroke="#0c0c0c" stroke-width="3.4" stroke-linecap="round"/><line x1="336" y1="886.4" x2="376" y2="909" stroke="#0c0c0c" stroke-width="3.2" stroke-linecap="round"/><line x1="359" y1="860" x2="410" y2="888" stroke="#0c0c0c" stroke-width="3" stroke-linecap="round"/><line x1="263" y1="845" x2="303" y2="866.6" stroke="#0c0c0c" stroke-width="1.2" /><line x1="327" y1="883" x2="375" y2="909" stroke="#0c0c0c" stroke-width="2.6" /><line x1="325" y1="887" x2="376" y2="920" stroke="#0c0c0c" stroke-width="1" /><polygon points="288,871 293,868.6 298.6,871.4 293.4,874.6" fill="#fff" stroke="#0c0c0c" stroke-width="1.4" stroke-linejoin="round"/><polygon points="336,896 340,894.6 342,897 338,898.6" fill="#0c0c0c" stroke="#0c0c0c" stroke-width="0.8" stroke-linejoin="round"/><line x1="276.176" y1="811.424" x2="361.519" y2="860.479" stroke="#0c0c0c" stroke-width="3.4" stroke-linecap="round"/><line x1="264.277" y1="818.424" x2="349.619" y2="867.479" stroke="#0c0c0c" stroke-width="3.4" stroke-linecap="round"/><line x1="252.377" y1="825.424" x2="337.719" y2="874.479" stroke="#0c0c0c" stroke-width="3.4" stroke-linecap="round"/><line x1="240.477" y1="832.424" x2="325.819" y2="881.479" stroke="#0c0c0c" stroke-width="3.4" stroke-linecap="round"/><line x1="290.4" y1="819.6" x2="254.701" y2="840.6" stroke="#0c0c0c" stroke-width="3.4" stroke-linecap="round"/><line x1="308.18" y1="829.82" x2="272.48" y2="850.819" stroke="#0c0c0c" stroke-width="3.4" stroke-linecap="round"/><line x1="325.959" y1="840.04" x2="290.26" y2="861.039" stroke="#0c0c0c" stroke-width="3.4" stroke-linecap="round"/><line x1="343.739" y1="850.259" x2="308.04" y2="871.259" stroke="#0c0c0c" stroke-width="3.4" stroke-linecap="round"/><line x1="361.519" y1="860.479" x2="325.819" y2="881.479" stroke="#0c0c0c" stroke-width="3.4" stroke-linecap="round"/><line x1="349.619" y1="867.479" x2="356.731" y2="871.567" stroke="#0c0c0c" stroke-width="3.4" stroke-linecap="round"/><line x1="337.719" y1="874.479" x2="344.831" y2="878.567" stroke="#0c0c0c" stroke-width="3.4" stroke-linecap="round"/><ellipse cx="290.4" cy="819.6" rx="2.3" ry="1.8" fill="#0c0c0c" stroke="none" stroke-width="0" /><ellipse cx="290.4" cy="819.6" rx="0.7" ry="0.6" fill="#ccc" stroke="none" stroke-width="0" /><ellipse cx="278.5" cy="826.6" rx="2.3" ry="1.8" fill="#0c0c0c" stroke="none" stroke-width="0" /><ellipse cx="278.5" cy="826.6" rx="0.7" ry="0.6" fill="#ccc" stroke="none" stroke-width="0" /><ellipse cx="266.6" cy="833.6" rx="2.3" ry="1.8" fill="#0c0c0c" stroke="none" stroke-width="0" /><ellipse cx="266.6" cy="833.6" rx="0.7" ry="0.6" fill="#ccc" stroke="none" stroke-width="0" /><ellipse cx="254.701" cy="840.6" rx="2.3" ry="1.8" fill="#0c0c0c" stroke="none" stroke-width="0" /><ellipse cx="254.701" cy="840.6" rx="0.7" ry="0.6" fill="#ccc" stroke="none" stroke-width="0" /><ellipse cx="308.18" cy="829.82" rx="2.3" ry="1.8" fill="#0c0c0c" stroke="none" stroke-width="0" /><ellipse cx="308.18" cy="829.82" rx="0.7" ry="0.6" fill="#ccc" stroke="none" stroke-width="0" /><ellipse cx="296.28" cy="836.82" rx="2.3" ry="1.8" fill="#0c0c0c" stroke="none" stroke-width="0" /><ellipse cx="296.28" cy="836.82" rx="0.7" ry="0.6" fill="#ccc" stroke="none" stroke-width="0" /><ellipse cx="284.38" cy="843.82" rx="2.3" ry="1.8" fill="#0c0c0c" stroke="none" stroke-width="0" /><ellipse cx="284.38" cy="843.82" rx="0.7" ry="0.6" fill="#ccc" stroke="none" stroke-width="0" /><ellipse cx="272.48" cy="850.819" rx="2.3" ry="1.8" fill="#0c0c0c" stroke="none" stroke-width="0" /><ellipse cx="272.48" cy="850.819" rx="0.7" ry="0.6" fill="#ccc" stroke="none" stroke-width="0" /><ellipse cx="325.959" cy="840.04" rx="2.3" ry="1.8" fill="#0c0c0c" stroke="none" stroke-width="0" /><ellipse cx="325.959" cy="840.04" rx="0.7" ry="0.6" fill="#ccc" stroke="none" stroke-width="0" /><ellipse cx="314.06" cy="847.039" rx="2.3" ry="1.8" fill="#0c0c0c" stroke="none" stroke-width="0" /><ellipse cx="314.06" cy="847.039" rx="0.7" ry="0.6" fill="#ccc" stroke="none" stroke-width="0" /><ellipse cx="302.16" cy="854.039" rx="2.3" ry="1.8" fill="#0c0c0c" stroke="none" stroke-width="0" /><ellipse cx="302.16" cy="854.039" rx="0.7" ry="0.6" fill="#ccc" stroke="none" stroke-width="0" /><ellipse cx="290.26" cy="861.039" rx="2.3" ry="1.8" fill="#0c0c0c" stroke="none" stroke-width="0" /><ellipse cx="290.26" cy="861.039" rx="0.7" ry="0.6" fill="#ccc" stroke="none" stroke-width="0" /><ellipse cx="343.739" cy="850.259" rx="2.3" ry="1.8" fill="#0c0c0c" stroke="none" stroke-width="0" /><ellipse cx="343.739" cy="850.259" rx="0.7" ry="0.6" fill="#ccc" stroke="none" stroke-width="0" /><ellipse cx="331.839" cy="857.259" rx="2.3" ry="1.8" fill="#0c0c0c" stroke="none" stroke-width="0" /><ellipse cx="331.839" cy="857.259" rx="0.7" ry="0.6" fill="#ccc" stroke="none" stroke-width="0" /><ellipse cx="319.939" cy="864.259" rx="2.3" ry="1.8" fill="#0c0c0c" stroke="none" stroke-width="0" /><ellipse cx="319.939" cy="864.259" rx="0.7" ry="0.6" fill="#ccc" stroke="none" stroke-width="0" /><ellipse cx="308.04" cy="871.259" rx="2.3" ry="1.8" fill="#0c0c0c" stroke="none" stroke-width="0" /><ellipse cx="308.04" cy="871.259" rx="0.7" ry="0.6" fill="#ccc" stroke="none" stroke-width="0" /><ellipse cx="361.519" cy="860.479" rx="2.3" ry="1.8" fill="#0c0c0c" stroke="none" stroke-width="0" /><ellipse cx="361.519" cy="860.479" rx="0.7" ry="0.6" fill="#ccc" stroke="none" stroke-width="0" /><ellipse cx="349.619" cy="867.479" rx="2.3" ry="1.8" fill="#0c0c0c" stroke="none" stroke-width="0" /><ellipse cx="349.619" cy="867.479" rx="0.7" ry="0.6" fill="#ccc" stroke="none" stroke-width="0" /><ellipse cx="337.719" cy="874.479" rx="2.3" ry="1.8" fill="#0c0c0c" stroke="none" stroke-width="0" /><ellipse cx="337.719" cy="874.479" rx="0.7" ry="0.6" fill="#ccc" stroke="none" stroke-width="0" /><ellipse cx="325.819" cy="881.479" rx="2.3" ry="1.8" fill="#0c0c0c" stroke="none" stroke-width="0" /><ellipse cx="325.819" cy="881.479" rx="0.7" ry="0.6" fill="#ccc" stroke="none" stroke-width="0" /><path d="M232.2,810.3 L256.2,798.9 Q259.5,797.6 262.8,799.6 L271.2,805.1 Q273.1,807 270.6,809 L251.7,820 Q249.1,821.7 245.8,820 L232.2,813.5 Q230.2,811.9 232.2,810.3 Z" fill="#fff" stroke="#0c0c0c" stroke-width="3" stroke-linejoin="round"/><polygon points="251.7,803.1 259.5,799.2 266,807.7 258.2,814.2 247.8,811.6" fill="#0c0c0c" stroke="#0c0c0c" stroke-width="1" stroke-linejoin="round"/><path d="M241.3,807.7 C241.9,801.2 247.8,798 254.3,798.9 L258.2,800.2 C253,802.5 250.4,807 249.8,812.9 Z" fill="#fff" stroke="#0c0c0c" stroke-width="1.6" /><polygon points="398,910 410,904.4 426,913 441,905.6 468,919.6 453,928 465,935.6 449,944.4 434,936.4 419,945 400,935.6 415,927" fill="#fff" stroke="#0c0c0c" stroke-width="2.2" stroke-linejoin="round"/><polygon points="400,909.6 409,906 419,912.4 410,916.4" fill="#222" stroke="#0c0c0c" stroke-width="1" stroke-linejoin="round"/><polygon points="444,933.6 458,928 465,935.6 452,941" fill="#222" stroke="#0c0c0c" stroke-width="1" stroke-linejoin="round"/><ellipse cx="433" cy="914.4" rx="1.6" ry="1.2" fill="#333" stroke="none" stroke-width="0" /><ellipse cx="440" cy="918.4" rx="1.6" ry="1.2" fill="#333" stroke="none" stroke-width="0" /><ellipse cx="432.4" cy="922" rx="1.6" ry="1.2" fill="#333" stroke="none" stroke-width="0" /><ellipse cx="425" cy="927" rx="1.6" ry="1.2" fill="#333" stroke="none" stroke-width="0" /><ellipse cx="433" cy="931" rx="1.6" ry="1.2" fill="#333" stroke="none" stroke-width="0" /><ellipse cx="418" cy="922" rx="1.6" ry="1.2" fill="#333" stroke="none" stroke-width="0" /><polygon points="373,896 380,891.6 383,893.6 398,885 406,889 383,901" fill="#fff" stroke="#0c0c0c" stroke-width="1.4" stroke-linejoin="round"/><ellipse cx="421" cy="896.4" rx="6.4" ry="7.6" fill="#0c0c0c" stroke="#0c0c0c" stroke-width="1" /><line x1="417.6" y1="893.2" x2="424.2" y2="893.2" stroke="#ddd" stroke-width="1" /><line x1="417.4" y1="900.2" x2="424.4" y2="900.2" stroke="#bbb" stroke-width="0.9" /><ellipse cx="389" cy="914.4" rx="6.4" ry="7.6" fill="#0c0c0c" stroke="#0c0c0c" stroke-width="1" /><line x1="385.6" y1="911.2" x2="392.2" y2="911.2" stroke="#ddd" stroke-width="1" /><line x1="385.4" y1="918.2" x2="392.4" y2="918.2" stroke="#bbb" stroke-width="0.9" /><ellipse cx="478" cy="927.6" rx="6.4" ry="7.6" fill="#0c0c0c" stroke="#0c0c0c" stroke-width="1" /><line x1="474.6" y1="924.4" x2="481.2" y2="924.4" stroke="#ddd" stroke-width="1" /><line x1="474.4" y1="931.4" x2="481.4" y2="931.4" stroke="#bbb" stroke-width="0.9" /><ellipse cx="445" cy="945.6" rx="6.4" ry="7.6" fill="#0c0c0c" stroke="#0c0c0c" stroke-width="1" /><line x1="441.6" y1="942.4" x2="448.2" y2="942.4" stroke="#ddd" stroke-width="1" /><line x1="441.4" y1="949.4" x2="448.4" y2="949.4" stroke="#bbb" stroke-width="0.9" /><path d="M467,947 L492,934 L512,944 L484,959 Z" fill="#fff" stroke="#0c0c0c" stroke-width="2.6" stroke-linejoin="round"/><polygon points="488,938 502,934 510,944 500,952 488,952" fill="#0c0c0c" stroke="#0c0c0c" stroke-width="1" stroke-linejoin="round"/><path d="M478,944 C478,936 486,932.4 494,934 L496,936 C491,940 489,948 489,954 Z" fill="#fff" stroke="#0c0c0c" stroke-width="1.6" /><polygon points="507.6,928 514,931 513.6,944 507.6,941" fill="#0c0c0c" stroke="#0c0c0c" stroke-width="1" stroke-linejoin="round"/><ellipse cx="519" cy="938.4" rx="1.2" ry="1" fill="#0c0c0c" stroke="none" stroke-width="0" /><polyline points="460,962 484,962.4 514,946" fill="none" stroke="#0c0c0c" stroke-width="1.2" stroke-linejoin="round" stroke-linecap="round"/><path d="M200,895.5 L189,911.5 L187.5,924" fill="none" stroke="#111" stroke-width="3" stroke-linecap="round" stroke-linejoin="round"/><path d="M200,895.5 L189,911.5 L187.5,924" fill="none" stroke="#666" stroke-width="0.9" stroke-linecap="round" stroke-linejoin="round"/><ellipse cx="66.5" cy="963.6" rx="4.6" ry="5.2" fill="#fff" stroke="#0c0c0c" stroke-width="1.8" /><polygon points="67.5,959 74.2,959.8 77,964.1 75.1,968.9 69.8,969.3 67.5,967" fill="#222" stroke="#0c0c0c" stroke-width="1.2" stroke-linejoin="round"/><ellipse cx="69.8" cy="964.7" rx="1.8" ry="2.4" fill="#ddd" stroke="none" stroke-width="0" /><line x1="75.1" y1="964.1" x2="77" y2="967" stroke="#0c0c0c" stroke-width="2.4" /><polygon points="103.6,967 109.3,961.7 120.7,964.1 121.6,974.6 113.1,980.7 104.5,974.2" fill="#fff" stroke="#0c0c0c" stroke-width="1.9" stroke-linejoin="round"/><polyline points="109.3,961.7 111.6,969.9 121.6,967" fill="none" stroke="#0c0c0c" stroke-width="1.4" stroke-linejoin="round" stroke-linecap="round"/><polyline points="111.6,969.9 113.1,980.7" fill="none" stroke="#0c0c0c" stroke-width="1.4" stroke-linejoin="round" stroke-linecap="round"/><polygon points="113.1,964.1 118.8,963.6 119.2,966.6 114,967.4" fill="#333" stroke="#0c0c0c" stroke-width="0.8" stroke-linejoin="round"/><line x1="106.4" y1="968.9" x2="109.3" y2="971.8" stroke="#0c0c0c" stroke-width="1.2" /><path d="M48.5,990.8 C58,989.8 63.7,985 74.2,985 C82.7,985 86.5,989.8 93.1,990.8 L99.8,992.1" fill="none" stroke="#0c0c0c" stroke-width="2.8" stroke-linecap="round"/><polygon points="42.8,989.4 48.5,988.9 48.9,993.2 43.2,993.6" fill="#fff" stroke="#0c0c0c" stroke-width="1.8" stroke-linejoin="round"/><line x1="85.5" y1="987" x2="94.1" y2="989.4" stroke="#0c0c0c" stroke-width="3.6" stroke-linecap="round"/><ellipse cx="694" cy="734.9" rx="4.6" ry="5" fill="#fff" stroke="#0c0c0c" stroke-width="1.4" /><polygon points="694,732 702,728.5 707.6,729.6 710.8,731.2 710,737.6 704.4,741.6 700.4,746.4 694,747.2 692.4,742.4 694,737.6" fill="#0c0c0c" stroke="#0c0c0c" stroke-width="1" stroke-linejoin="round"/><line x1="686" y1="729.6" x2="690" y2="732" stroke="#0c0c0c" stroke-width="1.4" /><ellipse cx="707.1" cy="733.6" rx="1.3" ry="1.6" fill="#fff" stroke="none" stroke-width="0" /><path d="M774.8,772.8 L804.1,717.6 Q805.7,714.4 809.5,714.7 L818.8,719.5" fill="none" stroke="#0c0c0c" stroke-width="2.8" stroke-linecap="round" stroke-linejoin="round"/><path d="M774,775.2 L785.2,768 Q789.2,764.8 789.7,759.2 L790,753.6" fill="none" stroke="#0c0c0c" stroke-width="2.6" stroke-linecap="round"/><path d="M765.2,792.8 Q766.8,797.6 772.4,796.8 L801.2,780 Q804.7,777.6 804.7,772 L804.7,762.4" fill="none" stroke="#0c0c0c" stroke-width="2.6" stroke-linecap="round"/><polygon points="753.2,763.2 759.6,760.5 769.2,760.8 775.6,765.6 775.6,775.2 770,780 764.4,783.2 764.4,794.4 758.8,797.9 750,794.4 745.2,787.2 746.8,776.8 752.4,772.8" fill="#0c0c0c" stroke="#0c0c0c" stroke-width="1.2" stroke-linejoin="round"/><ellipse cx="757.7" cy="764.8" rx="2.2" ry="1.6" fill="#fff" stroke="none" stroke-width="0" /><ellipse cx="764.4" cy="764.3" rx="2.6" ry="1.8" fill="#fff" stroke="none" stroke-width="0" /><polygon points="757.2,772.8 763.6,773.6 763.6,776.8 757.2,776" fill="#fff" stroke="#0c0c0c" stroke-width="0.5" stroke-linejoin="round"/><ellipse cx="750" cy="780" rx="0.9" ry="0.9" fill="#ccc" stroke="none" stroke-width="0" /><ellipse cx="754.8" cy="784.8" rx="0.9" ry="0.9" fill="#ccc" stroke="none" stroke-width="0" /><ellipse cx="751.6" cy="789.6" rx="0.9" ry="0.9" fill="#ccc" stroke="none" stroke-width="0" /><ellipse cx="758.8" cy="792" rx="0.9" ry="0.9" fill="#ccc" stroke="none" stroke-width="0" /><ellipse cx="759.6" cy="783.2" rx="0.9" ry="0.9" fill="#ccc" stroke="none" stroke-width="0" /><polygon points="109.6,586.9 116.8,582.4 121.2,583.9 126.7,585.9 130.6,590.8 129.7,594.4 126.7,595.6 123.2,593.6 120.7,590.4 115.2,592.4 111.2,590.9" fill="#0c0c0c" stroke="#0c0c0c" stroke-width="1.2" stroke-linejoin="round"/><polygon points="107.2,592.4 111.4,589.6 123.4,595.4 119.2,599.4" fill="#fff" stroke="#0c0c0c" stroke-width="2" stroke-linejoin="round"/><ellipse cx="118.6" cy="588" rx="2.3" ry="2" fill="#fff" stroke="none" stroke-width="0" /><ellipse cx="118.6" cy="588.2" rx="0.8" ry="0.7" fill="#555" stroke="none" stroke-width="0" /><ellipse cx="127.4" cy="591.8" rx="1.5" ry="1.4" fill="#fff" stroke="none" stroke-width="0" /><line x1="122.7" y1="585.4" x2="125.2" y2="588.9" stroke="#fff" stroke-width="0.9" /><line x1="113.2" y1="587.9" x2="115.2" y2="590.9" stroke="#fff" stroke-width="0.8" /><polygon points="61.6,610.9 68.8,606.4 73.2,607.9 78.7,609.9 82.6,614.8 81.7,618.4 78.7,619.6 75.2,617.6 72.7,614.4 67.2,616.4 63.2,614.9" fill="#0c0c0c" stroke="#0c0c0c" stroke-width="1.2" stroke-linejoin="round"/><polygon points="59.2,616.4 63.4,613.6 75.4,619.4 71.2,623.4" fill="#fff" stroke="#0c0c0c" stroke-width="2" stroke-linejoin="round"/><ellipse cx="70.6" cy="612" rx="2.3" ry="2" fill="#fff" stroke="none" stroke-width="0" /><ellipse cx="70.6" cy="612.2" rx="0.8" ry="0.7" fill="#555" stroke="none" stroke-width="0" /><ellipse cx="79.4" cy="615.8" rx="1.5" ry="1.4" fill="#fff" stroke="none" stroke-width="0" /><line x1="74.7" y1="609.4" x2="77.2" y2="612.9" stroke="#fff" stroke-width="0.9" /><line x1="65.2" y1="611.9" x2="67.2" y2="614.9" stroke="#fff" stroke-width="0.8" /><polygon points="159.2,620.5 166.4,616 170.8,617.5 176.3,619.5 180.2,624.4 179.3,628 176.3,629.2 172.8,627.2 170.3,624 164.8,626 160.8,624.5" fill="#0c0c0c" stroke="#0c0c0c" stroke-width="1.2" stroke-linejoin="round"/><polygon points="156.8,626 161,623.2 173,629 168.8,633" fill="#fff" stroke="#0c0c0c" stroke-width="2" stroke-linejoin="round"/><ellipse cx="168.2" cy="621.6" rx="2.3" ry="2" fill="#fff" stroke="none" stroke-width="0" /><ellipse cx="168.2" cy="621.8" rx="0.8" ry="0.7" fill="#555" stroke="none" stroke-width="0" /><ellipse cx="177" cy="625.4" rx="1.5" ry="1.4" fill="#fff" stroke="none" stroke-width="0" /><line x1="172.3" y1="619" x2="174.8" y2="622.5" stroke="#fff" stroke-width="0.9" /><line x1="162.8" y1="621.5" x2="164.8" y2="624.5" stroke="#fff" stroke-width="0.8" /><polygon points="111.2,645.3 118.4,640.8 122.8,642.3 128.3,644.3 132.2,649.2 131.3,652.8 128.3,654 124.8,652 122.3,648.8 116.8,650.8 112.8,649.3" fill="#0c0c0c" stroke="#0c0c0c" stroke-width="1.2" stroke-linejoin="round"/><polygon points="108.8,650.8 113,648 125,653.8 120.8,657.8" fill="#fff" stroke="#0c0c0c" stroke-width="2" stroke-linejoin="round"/><ellipse cx="120.2" cy="646.4" rx="2.3" ry="2" fill="#fff" stroke="none" stroke-width="0" /><ellipse cx="120.2" cy="646.6" rx="0.8" ry="0.7" fill="#555" stroke="none" stroke-width="0" /><ellipse cx="129" cy="650.2" rx="1.5" ry="1.4" fill="#fff" stroke="none" stroke-width="0" /><line x1="124.3" y1="643.8" x2="126.8" y2="647.3" stroke="#fff" stroke-width="0.9" /><line x1="114.8" y1="646.3" x2="116.8" y2="649.3" stroke="#fff" stroke-width="0.8" /><line x1="82.5" y1="81" x2="444" y2="81" stroke="#161616" stroke-width="2.4" stroke-dasharray="39 4.2 7.6 4.8 7.6 3.8" stroke-dashoffset="4"/><line x1="82.5" y1="342.5" x2="444" y2="342.5" stroke="#161616" stroke-width="2.4" stroke-dasharray="39 4.2 7.6 4.8 7.6 3.8" stroke-dashoffset="4"/><line x1="83.5" y1="81" x2="83.5" y2="342.5" stroke="#161616" stroke-width="1.9" stroke-dasharray="7.7 5.2 11.1 6 11 6.4 56 6.5 11.5 6.5 10.5 5.6 56 6.5 11.5 6.5 10.5 5.6 56 6.5 11.5 6.5 10.5 5.6"/><line x1="443" y1="81" x2="443" y2="342.5" stroke="#161616" stroke-width="1.9" stroke-dasharray="7.7 5.2 11.1 6 11 6.4 56 6.5 11.5 6.5 10.5 5.6 56 6.5 11.5 6.5 10.5 5.6 56 6.5 11.5 6.5 10.5 5.6"/><line x1="507" y1="81" x2="868" y2="81" stroke="#161616" stroke-width="2.4" stroke-dasharray="39 4.2 7.6 4.8 7.6 3.8" stroke-dashoffset="4"/><line x1="507" y1="340" x2="868" y2="340" stroke="#161616" stroke-width="2.4" stroke-dasharray="39 4.2 7.6 4.8 7.6 3.8" stroke-dashoffset="4"/><line x1="508" y1="81" x2="508" y2="340" stroke="#161616" stroke-width="1.9" stroke-dasharray="7.7 5.2 11.1 6 11 6.4 56 6.5 11.5 6.5 10.5 5.6 56 6.5 11.5 6.5 10.5 5.6 56 6.5 11.5 6.5 10.5 5.6"/><line x1="867" y1="81" x2="867" y2="340" stroke="#161616" stroke-width="1.9" stroke-dasharray="7.7 5.2 11.1 6 11 6.4 56 6.5 11.5 6.5 10.5 5.6 56 6.5 11.5 6.5 10.5 5.6 56 6.5 11.5 6.5 10.5 5.6"/><rect x="23.6" y="916.7" width="121" height="113.4" fill="none" stroke="#333" stroke-width="1.4"/><line x1="234.5" y1="52" x2="234.5" y2="79" stroke="#747474" stroke-width="1.9" /><line x1="659" y1="52" x2="659" y2="79" stroke="#747474" stroke-width="1.9" /><line x1="188" y1="267.5" x2="219" y2="246" stroke="#444" stroke-width="1.35" /><line x1="559" y1="264.5" x2="559" y2="254" stroke="#747474" stroke-width="1.9" /><line x1="672" y1="264" x2="704" y2="243" stroke="#444" stroke-width="1.35" /><line x1="302" y1="419" x2="287" y2="462" stroke="#444" stroke-width="1.35" /><line x1="487.6" y1="467.8" x2="456" y2="481.6" stroke="#444" stroke-width="1.35" /><line x1="516.1" y1="477" x2="535" y2="517.3" stroke="#444" stroke-width="1.35" /><line x1="884" y1="530" x2="866" y2="557" stroke="#444" stroke-width="1.35" /><line x1="345" y1="619" x2="373" y2="600" stroke="#444" stroke-width="1.35" /><line x1="357" y1="676" x2="381" y2="667" stroke="#444" stroke-width="1.35" /><line x1="462.5" y1="722.5" x2="462.5" y2="711" stroke="#747474" stroke-width="1.9" /><line x1="547" y1="708" x2="563" y2="685" stroke="#444" stroke-width="1.35" /><line x1="601" y1="762" x2="611" y2="733" stroke="#444" stroke-width="1.35" /><line x1="702.8" y1="768" x2="702.8" y2="746" stroke="#747474" stroke-width="1.9" /><line x1="758" y1="829" x2="770" y2="796" stroke="#444" stroke-width="1.35" /><line x1="70" y1="753" x2="70" y2="778" stroke="#747474" stroke-width="1.9" /><line x1="252.5" y1="763.5" x2="246" y2="785" stroke="#444" stroke-width="1.35" /><line x1="288.5" y1="767.5" x2="270" y2="785" stroke="#444" stroke-width="1.35" /><line x1="501.4" y1="887.8" x2="495" y2="910" stroke="#444" stroke-width="1.35" /><line x1="527.5" y1="915.5" x2="517.5" y2="926" stroke="#444" stroke-width="1.35" /><line x1="187.6" y1="923.3" x2="187.6" y2="935" stroke="#747474" stroke-width="1.9" /><line x1="144.5" y1="984.5" x2="170" y2="984.5" stroke="#747474" stroke-width="1.9" /><line x1="82.3" y1="999.5" x2="82.3" y2="989" stroke="#747474" stroke-width="1.9" /><line x1="113.1" y1="950.5" x2="113.1" y2="962" stroke="#747474" stroke-width="1.9" /><line x1="55.2" y1="951" x2="64.6" y2="959" stroke="#444" stroke-width="1.35" /><line x1="65.6" y1="573.4" x2="72" y2="607.5" stroke="#222" stroke-width="1.35" /><line x1="65.6" y1="573.4" x2="111.2" y2="644" stroke="#222" stroke-width="1.35" /><line x1="65.6" y1="573.4" x2="107.5" y2="589" stroke="#222" stroke-width="1.35" /><line x1="65.6" y1="573.4" x2="158.4" y2="622.4" stroke="#222" stroke-width="1.35" /><line x1="439.8" y1="833.6" x2="392" y2="905" stroke="#222" stroke-width="1.35" /><line x1="439.8" y1="833.6" x2="421.5" y2="886" stroke="#222" stroke-width="1.35" /><line x1="439.8" y1="833.6" x2="446" y2="935" stroke="#222" stroke-width="1.35" /><line x1="439.8" y1="833.6" x2="474" y2="920" stroke="#222" stroke-width="1.35" /><ellipse cx="234.5" cy="41" rx="18.5" ry="11" fill="#fdfdfd" stroke="#4c4c4c" stroke-width="1.5" /><text x="234.5" y="0" class="lb" transform="translate(0,45.2) scale(1,1.07)">302C</text><ellipse cx="659" cy="41" rx="18.5" ry="11" fill="#fdfdfd" stroke="#4c4c4c" stroke-width="1.5" /><text x="659" y="0" class="lb" transform="translate(0,45.2) scale(1,1.07)">302B</text><ellipse cx="181" cy="277" rx="18.5" ry="11" fill="#fdfdfd" stroke="#4c4c4c" stroke-width="1.5" /><text x="181" y="0" class="lb" transform="translate(0,281.2) scale(1,1.07)">408B</text><ellipse cx="560" cy="275" rx="18.5" ry="11" fill="#fdfdfd" stroke="#4c4c4c" stroke-width="1.5" /><text x="560" y="0" class="lb" transform="translate(0,279.2) scale(1,1.07)">400A</text><ellipse cx="661" cy="273" rx="18.5" ry="11" fill="#fdfdfd" stroke="#4c4c4c" stroke-width="1.5" /><text x="661" y="0" class="lb" transform="translate(0,277.2) scale(1,1.07)">408A</text><ellipse cx="307" cy="409" rx="18.5" ry="11" fill="#fdfdfd" stroke="#4c4c4c" stroke-width="1.5" /><text x="307" y="0" class="lb" transform="translate(0,413.2) scale(1,1.07)">301A</text><ellipse cx="506.3" cy="467" rx="18.5" ry="11" fill="#fdfdfd" stroke="#4c4c4c" stroke-width="1.5" /><text x="506.3" y="0" class="lb" transform="translate(0,471.2) scale(1,1.07)">105A</text><ellipse cx="892" cy="520" rx="18.5" ry="11" fill="#fdfdfd" stroke="#4c4c4c" stroke-width="1.5" /><text x="892" y="0" class="lb" transform="translate(0,524.2) scale(1,1.07)">313A</text><ellipse cx="64" cy="562" rx="18.5" ry="11" fill="#fdfdfd" stroke="#4c4c4c" stroke-width="1.5" /><text x="64" y="0" class="lb" transform="translate(0,566.2) scale(1,1.07)">314A</text><ellipse cx="334" cy="628" rx="18.5" ry="11" fill="#fdfdfd" stroke="#4c4c4c" stroke-width="1.5" /><text x="334" y="0" class="lb" transform="translate(0,632.2) scale(1,1.07)">308A</text><ellipse cx="341" cy="680" rx="18.5" ry="11" fill="#fdfdfd" stroke="#4c4c4c" stroke-width="1.5" /><text x="341" y="0" class="lb" transform="translate(0,684.2) scale(1,1.07)">318A</text><ellipse cx="464" cy="733" rx="18.5" ry="11" fill="#fdfdfd" stroke="#4c4c4c" stroke-width="1.5" /><text x="464" y="0" class="lb" transform="translate(0,737.2) scale(1,1.07)">317A</text><ellipse cx="541" cy="718" rx="18.5" ry="11" fill="#fdfdfd" stroke="#4c4c4c" stroke-width="1.5" /><text x="541" y="0" class="lb" transform="translate(0,722.2) scale(1,1.07)">403B</text><ellipse cx="597" cy="772" rx="18.5" ry="11" fill="#fdfdfd" stroke="#4c4c4c" stroke-width="1.5" /><text x="597" y="0" class="lb" transform="translate(0,776.2) scale(1,1.07)">308B</text><ellipse cx="697" cy="779" rx="18.5" ry="11" fill="#fdfdfd" stroke="#4c4c4c" stroke-width="1.5" /><text x="697" y="0" class="lb" transform="translate(0,783.2) scale(1,1.07)">308C</text><ellipse cx="754" cy="839" rx="18.5" ry="11" fill="#fdfdfd" stroke="#4c4c4c" stroke-width="1.5" /><text x="754" y="0" class="lb" transform="translate(0,843.2) scale(1,1.07)">619D</text><ellipse cx="70" cy="742" rx="18.5" ry="11" fill="#fdfdfd" stroke="#4c4c4c" stroke-width="1.5" /><text x="70" y="0" class="lb" transform="translate(0,746.2) scale(1,1.07)">300A</text><ellipse cx="252.5" cy="752.5" rx="18.5" ry="11" fill="#fdfdfd" stroke="#4c4c4c" stroke-width="1.5" /><text x="252.5" y="0" class="lb" transform="translate(0,756.7) scale(1,1.07)">305C</text><ellipse cx="294" cy="758.5" rx="18.5" ry="11" fill="#fdfdfd" stroke="#4c4c4c" stroke-width="1.5" /><text x="294" y="0" class="lb" transform="translate(0,762.7) scale(1,1.07)">305B</text><ellipse cx="440.5" cy="822" rx="18.5" ry="11" fill="#fdfdfd" stroke="#4c4c4c" stroke-width="1.5" /><text x="440.5" y="0" class="lb" transform="translate(0,826.2) scale(1,1.07)">306A</text><ellipse cx="505" cy="876" rx="18.5" ry="11" fill="#fdfdfd" stroke="#4c4c4c" stroke-width="1.5" /><text x="505" y="0" class="lb" transform="translate(0,880.2) scale(1,1.07)">305B</text><ellipse cx="532.5" cy="904.5" rx="18.5" ry="11" fill="#fdfdfd" stroke="#4c4c4c" stroke-width="1.5" /><text x="532.5" y="0" class="lb" transform="translate(0,908.7) scale(1,1.07)">305C</text><ellipse cx="187.2" cy="946" rx="18.5" ry="11" fill="#fdfdfd" stroke="#4c4c4c" stroke-width="1.5" /><text x="187.2" y="0" class="lb" transform="translate(0,950.2) scale(1,1.07)">310B</text><ellipse cx="52" cy="940" rx="18.5" ry="11" fill="#fdfdfd" stroke="#4c4c4c" stroke-width="1.5" /><text x="52" y="0" class="lb" transform="translate(0,944.2) scale(1,1.07)">303C</text><ellipse cx="115.4" cy="939.5" rx="18.5" ry="11" fill="#fdfdfd" stroke="#4c4c4c" stroke-width="1.5" /><text x="115.4" y="0" class="lb" transform="translate(0,943.7) scale(1,1.07)">304A</text><ellipse cx="188.7" cy="984.5" rx="18.5" ry="11" fill="#fdfdfd" stroke="#4c4c4c" stroke-width="1.5" /><text x="188.7" y="0" class="lb" transform="translate(0,988.7) scale(1,1.07)">303A</text><ellipse cx="81.2" cy="1010.3" rx="18.5" ry="11" fill="#fdfdfd" stroke="#4c4c4c" stroke-width="1.5" /><text x="81.2" y="0" class="lb" transform="translate(0,1014.5) scale(1,1.07)">303D</text></g></svg></body></html>
